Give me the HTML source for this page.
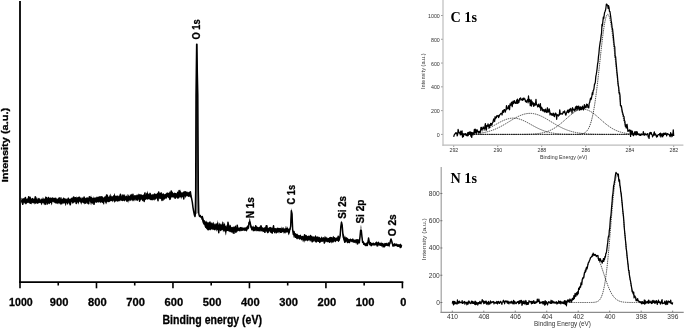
<!DOCTYPE html>
<html><head><meta charset="utf-8"><style>
html,body{margin:0;padding:0;background:#fff;}
body{width:685px;height:328px;overflow:hidden;font-family:"Liberation Sans",sans-serif;}
svg{display:block;filter:blur(0.3px);}
</style></head><body>
<svg width="685" height="328" viewBox="0 0 685 328">
<g stroke="#000" fill="none">
<line x1="20" y1="1" x2="20" y2="282.9" stroke-width="1.8"/>
<line x1="19.1" y1="282.1" x2="403.3" y2="282.1" stroke-width="1.7"/>
<line x1="20.00" y1="282" x2="20.00" y2="288.3" stroke-width="1.6"/>
<line x1="58.24" y1="282" x2="58.24" y2="285.5" stroke-width="1.6"/>
<line x1="96.48" y1="282" x2="96.48" y2="288.3" stroke-width="1.6"/>
<line x1="134.72" y1="282" x2="134.72" y2="285.5" stroke-width="1.6"/>
<line x1="172.96" y1="282" x2="172.96" y2="288.3" stroke-width="1.6"/>
<line x1="211.20" y1="282" x2="211.20" y2="285.5" stroke-width="1.6"/>
<line x1="249.44" y1="282" x2="249.44" y2="288.3" stroke-width="1.6"/>
<line x1="287.68" y1="282" x2="287.68" y2="285.5" stroke-width="1.6"/>
<line x1="325.92" y1="282" x2="325.92" y2="288.3" stroke-width="1.6"/>
<line x1="364.16" y1="282" x2="364.16" y2="285.5" stroke-width="1.6"/>
<line x1="402.40" y1="282" x2="402.40" y2="288.3" stroke-width="1.6"/>
</g>
<g font-family="Liberation Sans" font-weight="bold" stroke="#000" stroke-width="0.3" font-size="11.5" fill="#000" text-anchor="middle">
<text x="20.90" y="306" textLength="23.6" lengthAdjust="spacingAndGlyphs">1000</text>
<text x="59.14" y="306" textLength="18.6" lengthAdjust="spacingAndGlyphs">900</text>
<text x="97.38" y="306" textLength="18.6" lengthAdjust="spacingAndGlyphs">800</text>
<text x="135.62" y="306" textLength="18.6" lengthAdjust="spacingAndGlyphs">700</text>
<text x="173.86" y="306" textLength="18.6" lengthAdjust="spacingAndGlyphs">600</text>
<text x="212.10" y="306" textLength="18.6" lengthAdjust="spacingAndGlyphs">500</text>
<text x="250.34" y="306" textLength="18.6" lengthAdjust="spacingAndGlyphs">400</text>
<text x="288.58" y="306" textLength="18.6" lengthAdjust="spacingAndGlyphs">300</text>
<text x="326.82" y="306" textLength="18.6" lengthAdjust="spacingAndGlyphs">200</text>
<text x="365.06" y="306" textLength="18.6" lengthAdjust="spacingAndGlyphs">100</text>
<text x="403.30" y="306" textLength="6.1" lengthAdjust="spacingAndGlyphs">0</text>
</g>
<text font-family="Liberation Sans" font-weight="bold" stroke="#000" stroke-width="0.3" font-size="12" x="162.5" y="323.8" textLength="99.5" lengthAdjust="spacingAndGlyphs">Binding energy (eV)</text>
<text font-family="Liberation Sans" font-weight="bold" stroke="#000" stroke-width="0.3" font-size="9.6" transform="translate(8.4,182.3) rotate(-90)" textLength="74.5" lengthAdjust="spacingAndGlyphs">Intensity (a.u.)</text>
<text font-family="Liberation Sans" font-weight="bold" stroke="#000" stroke-width="0.3" font-size="10.6" transform="translate(200.1,39.6) rotate(-90)" textLength="20.3" lengthAdjust="spacingAndGlyphs">O 1s</text>
<text font-family="Liberation Sans" font-weight="bold" stroke="#000" stroke-width="0.3" font-size="10.6" transform="translate(254.2,218.2) rotate(-90)" textLength="21" lengthAdjust="spacingAndGlyphs">N 1s</text>
<text font-family="Liberation Sans" font-weight="bold" stroke="#000" stroke-width="0.3" font-size="10.6" transform="translate(295.2,204.4) rotate(-90)" textLength="19.6" lengthAdjust="spacingAndGlyphs">C 1s</text>
<text font-family="Liberation Sans" font-weight="bold" stroke="#000" stroke-width="0.3" font-size="10.6" transform="translate(345.6,218.8) rotate(-90)" textLength="22.8" lengthAdjust="spacingAndGlyphs">Si 2s</text>
<text font-family="Liberation Sans" font-weight="bold" stroke="#000" stroke-width="0.3" font-size="10.6" transform="translate(363.6,223.6) rotate(-90)" textLength="24" lengthAdjust="spacingAndGlyphs">Si 2p</text>
<text font-family="Liberation Sans" font-weight="bold" stroke="#000" stroke-width="0.3" font-size="10.6" transform="translate(396.2,236.3) rotate(-90)" textLength="22" lengthAdjust="spacingAndGlyphs">O 2s</text>
<defs><linearGradient id="o1g" x1="0" y1="0" x2="0" y2="1"><stop offset="0" stop-color="#000"/><stop offset="0.3" stop-color="#111"/><stop offset="1" stop-color="#8a8a8a"/></linearGradient></defs>
<path d="M195.25,214.8L195.7,190L196.0,95L196.3,72L196.65,44.2L196.95,44.2L197.3,72L197.8,95L198.3,190L198.75,212.5Z" fill="url(#o1g)"/>
<path d="M21.40,198.58L21.73,197.39L22.06,198.75L22.39,199.04L22.72,197.96L23.05,197.98L23.38,198.31L23.71,197.91L24.04,198.91L24.37,198.98L24.70,199.44L25.03,199.19L25.36,199.65L25.69,198.61L26.02,199.49L26.35,199.88L26.68,199.52L27.01,198.49L27.34,198.61L27.67,198.01L28.00,199.07L28.33,197.26L28.66,197.22L28.99,197.51L29.32,197.85L29.65,198.43L29.98,197.00L30.31,197.28L30.64,197.47L30.97,198.08L31.30,198.55L31.63,198.69L31.96,198.85L32.29,198.93L32.62,198.42L32.95,198.67L33.28,198.78L33.61,198.50L33.94,199.43L34.27,198.48L34.60,198.55L34.93,199.11L35.26,198.23L35.59,197.58L35.92,198.08L36.25,198.79L36.58,197.35L36.91,196.55L37.24,198.54L37.57,199.64L37.90,197.70L38.23,197.71L38.56,198.16L38.89,198.28L39.22,198.88L39.55,197.68L39.88,198.01L40.21,198.80L40.54,199.70L40.87,199.61L41.20,199.32L41.53,198.33L41.86,198.57L42.19,198.41L42.52,199.05L42.85,197.11L43.18,197.86L43.51,197.79L43.84,199.17L44.17,198.88L44.50,197.87L44.83,198.68L45.16,198.65L45.49,196.42L45.82,195.89L46.15,196.86L46.48,197.04L46.81,196.86L47.14,198.10L47.47,197.35L47.80,198.37L48.13,198.96L48.46,198.74L48.79,197.22L49.12,197.39L49.45,198.25L49.78,197.74L50.11,197.38L50.44,198.15L50.77,199.03L51.10,198.14L51.43,197.56L51.76,198.40L52.09,199.02L52.42,198.29L52.75,198.14L53.08,197.65L53.41,197.38L53.74,198.35L54.07,197.66L54.40,197.95L54.73,198.85L55.06,198.12L55.39,197.59L55.72,197.46L56.05,197.53L56.38,198.08L56.71,199.43L57.04,198.88L57.37,199.28L57.70,197.91L58.03,198.97L58.36,198.60L58.69,198.66L59.02,199.09L59.35,199.17L59.68,199.67L60.01,198.95L60.34,198.45L60.67,196.92L61.00,197.14L61.33,197.03L61.66,198.13L61.99,199.47L62.32,199.55L62.65,199.17L62.98,198.66L63.31,199.16L63.64,199.33L63.97,198.00L64.30,198.31L64.63,198.59L64.96,198.15L65.29,198.38L65.62,198.49L65.95,198.76L66.28,199.56L66.61,197.69L66.94,199.24L67.27,199.78L67.60,199.03L67.93,198.03L68.26,197.49L68.59,198.44L68.92,198.88L69.25,198.93L69.58,198.91L69.91,198.31L70.24,198.59L70.57,198.51L70.90,198.69L71.23,197.91L71.56,197.50L71.89,197.99L72.22,198.40L72.55,198.40L72.88,198.18L73.21,197.53L73.54,197.07L73.87,197.15L74.20,197.44L74.53,196.19L74.86,197.51L75.19,197.30L75.52,197.62L75.85,197.22L76.18,197.61L76.51,197.44L76.84,196.10L77.17,197.49L77.50,197.14L77.83,197.10L78.16,197.57L78.49,197.43L78.82,196.60L79.15,197.16L79.48,197.46L79.81,197.13L80.14,196.71L80.47,197.88L80.80,197.97L81.13,198.16L81.46,198.46L81.79,197.05L82.12,197.35L82.45,197.78L82.78,197.62L83.11,198.10L83.44,198.22L83.77,196.63L84.10,197.84L84.43,198.51L84.76,197.27L85.09,197.79L85.42,198.22L85.75,197.91L86.08,197.01L86.41,197.39L86.74,198.28L87.07,196.84L87.40,197.63L87.73,197.86L88.06,196.40L88.39,197.97L88.72,197.65L89.05,197.67L89.38,197.49L89.71,196.42L90.04,196.34L90.37,196.69L90.70,196.72L91.03,195.06L91.36,196.90L91.69,196.94L92.02,197.61L92.35,198.31L92.68,198.16L93.01,197.92L93.34,197.99L93.67,196.42L94.00,196.61L94.33,198.19L94.66,197.51L94.99,197.15L95.32,197.59L95.65,197.52L95.98,197.56L96.31,197.25L96.64,196.90L96.97,195.92L97.30,197.00L97.63,197.64L97.96,196.91L98.29,198.22L98.62,197.04L98.95,196.92L99.28,197.52L99.61,197.93L99.94,197.52L100.27,197.53L100.60,197.59L100.93,197.98L101.26,197.74L101.59,196.55L101.92,196.28L102.25,195.73L102.58,197.10L102.91,197.54L103.24,197.45L103.57,197.89L103.90,197.14L104.23,196.63L104.56,197.63L104.89,195.96L105.22,196.74L105.55,197.80L105.88,197.56L106.21,196.95L106.54,197.56L106.87,197.80L107.20,196.89L107.53,197.72L107.86,197.39L108.19,196.60L108.52,197.36L108.85,195.86L109.18,195.51L109.51,194.57L109.84,197.07L110.17,196.20L110.50,193.65L110.83,193.71L111.16,195.41L111.49,195.96L111.82,196.83L112.15,196.05L112.48,196.69L112.81,196.35L113.14,196.02L113.47,195.69L113.80,195.39L114.13,193.99L114.46,193.05L114.79,194.11L115.12,196.17L115.45,195.09L115.78,196.04L116.11,195.62L116.44,196.35L116.77,196.81L117.10,195.25L117.43,195.14L117.76,195.92L118.09,196.47L118.42,196.60L118.75,196.26L119.08,196.32L119.41,196.14L119.74,196.22L120.07,197.17L120.40,196.09L120.73,194.93L121.06,196.44L121.39,196.78L121.72,196.52L122.05,195.09L122.38,193.81L122.71,194.41L123.04,195.87L123.37,194.60L123.70,194.33L124.03,194.81L124.36,195.44L124.69,193.90L125.02,194.36L125.35,196.40L125.68,196.48L126.01,195.91L126.34,195.92L126.67,195.38L127.00,194.46L127.33,193.77L127.66,195.67L127.99,196.72L128.32,195.01L128.65,194.94L128.98,193.75L129.31,195.96L129.64,195.90L129.97,195.47L130.30,195.50L130.63,195.73L130.96,195.18L131.29,194.86L131.62,193.84L131.95,193.77L132.28,195.44L132.61,194.61L132.94,195.66L133.27,196.22L133.60,195.77L133.93,195.09L134.26,194.91L134.59,195.21L134.92,195.61L135.25,195.25L135.58,195.34L135.91,194.99L136.24,195.05L136.57,195.59L136.90,194.07L137.23,194.02L137.56,195.34L137.89,194.98L138.22,194.62L138.55,193.97L138.88,193.22L139.21,194.05L139.54,194.54L139.87,193.98L140.20,195.12L140.53,195.08L140.86,193.79L141.19,195.02L141.52,194.02L141.85,195.31L142.18,195.04L142.51,195.55L142.84,195.89L143.17,194.42L143.50,194.49L143.83,194.32L144.16,195.49L144.49,194.78L144.82,193.55L145.15,195.24L145.48,194.65L145.81,191.55L146.14,193.21L146.47,193.59L146.80,192.65L147.13,191.94L147.46,190.45L147.79,192.65L148.12,193.36L148.45,194.35L148.78,193.78L149.11,193.32L149.44,193.52L149.77,194.48L150.10,194.64L150.43,193.68L150.76,193.38L151.09,194.81L151.42,194.84L151.75,194.26L152.08,193.83L152.41,194.36L152.74,194.59L153.07,194.48L153.40,194.28L153.73,193.93L154.06,193.36L154.39,193.29L154.72,193.33L155.05,194.36L155.38,193.26L155.71,194.13L156.04,194.26L156.37,194.09L156.70,193.99L157.03,192.67L157.36,193.24L157.69,192.62L158.02,193.59L158.35,193.76L158.68,192.28L159.01,193.58L159.34,193.77L159.67,192.49L160.00,192.74L160.33,192.35L160.66,194.31L160.99,192.29L161.32,192.36L161.65,191.80L161.98,193.84L162.31,193.71L162.64,193.75L162.97,193.78L163.30,194.03L163.63,194.32L163.96,194.36L164.29,193.89L164.62,194.40L164.95,194.07L165.28,193.60L165.61,194.02L165.94,193.79L166.27,193.04L166.60,193.33L166.93,192.07L167.26,193.19L167.59,191.86L167.92,192.74L168.25,192.60L168.58,193.06L168.91,192.89L169.24,192.12L169.57,192.45L169.90,190.85L170.23,192.05L170.56,192.12L170.89,193.08L171.22,192.90L171.55,192.95L171.88,191.73L172.21,192.16L172.54,192.26L172.87,190.96L173.20,193.16L173.53,193.28L173.86,193.07L174.19,193.04L174.52,193.75L174.85,193.49L175.18,193.61L175.51,193.58L175.84,193.99L176.17,193.97L176.50,193.97L176.83,193.43L177.16,192.56L177.49,192.56L177.82,191.84L178.15,192.23L178.48,191.14L178.81,192.09L179.14,191.80L179.47,192.16L179.80,192.32L180.13,191.27L180.46,189.36L180.79,191.31L181.12,192.02L181.45,192.90L181.78,191.87L182.11,192.59L182.44,192.26L182.77,192.47L183.10,191.25L183.43,191.54L183.76,192.01L184.09,191.09L184.42,191.79L184.75,190.75L185.08,191.31L185.41,191.87L185.74,191.01L186.07,191.55L186.40,192.08L186.73,192.75L187.06,192.37L187.39,191.17L187.72,191.88L188.05,192.73L188.38,191.64L188.71,193.27L189.04,193.03L189.37,193.21L189.70,193.49L190.03,193.17L190.36,193.40L190.69,195.00L191.02,196.17L191.35,197.16L191.35,198.24L191.02,197.30L190.69,197.14L190.36,197.22L190.03,197.70L189.70,196.19L189.37,196.02L189.04,196.69L188.71,197.12L188.38,197.07L188.05,196.46L187.72,196.49L187.39,195.66L187.06,195.91L186.73,195.42L186.40,196.80L186.07,196.30L185.74,198.48L185.41,197.61L185.08,196.82L184.75,195.74L184.42,196.60L184.09,196.03L183.76,195.93L183.43,196.99L183.10,196.55L182.77,197.20L182.44,196.84L182.11,198.00L181.78,197.19L181.45,198.23L181.12,199.41L180.79,198.05L180.46,197.19L180.13,196.92L179.80,196.67L179.47,197.67L179.14,197.76L178.81,198.09L178.48,197.25L178.15,197.56L177.82,198.78L177.49,198.94L177.16,198.29L176.83,198.29L176.50,197.34L176.17,197.81L175.84,198.33L175.51,198.39L175.18,197.95L174.85,198.70L174.52,197.32L174.19,198.26L173.86,198.32L173.53,197.13L173.20,197.22L172.87,198.25L172.54,196.95L172.21,196.93L171.88,198.40L171.55,196.65L171.22,197.53L170.89,199.31L170.56,199.30L170.23,199.41L169.90,196.50L169.57,197.19L169.24,197.63L168.91,197.35L168.58,198.73L168.25,197.61L167.92,197.44L167.59,196.96L167.26,197.22L166.93,198.04L166.60,198.22L166.27,199.20L165.94,198.85L165.61,197.65L165.28,199.06L164.95,198.30L164.62,198.04L164.29,198.65L163.96,200.79L163.63,201.19L163.30,199.08L162.97,197.83L162.64,198.16L162.31,198.50L161.98,199.15L161.65,199.45L161.32,198.84L160.99,197.91L160.66,198.50L160.33,199.00L160.00,199.53L159.67,198.27L159.34,197.69L159.01,197.84L158.68,198.96L158.35,197.87L158.02,197.44L157.69,198.25L157.36,197.96L157.03,198.96L156.70,198.13L156.37,198.62L156.04,198.52L155.71,199.71L155.38,199.45L155.05,199.65L154.72,199.17L154.39,200.36L154.06,200.88L153.73,199.64L153.40,199.32L153.07,198.50L152.74,199.12L152.41,199.92L152.08,198.84L151.75,198.17L151.42,199.76L151.09,198.37L150.76,199.79L150.43,198.73L150.10,198.96L149.77,198.68L149.44,199.05L149.11,198.49L148.78,199.18L148.45,199.57L148.12,198.95L147.79,199.27L147.46,200.34L147.13,199.60L146.80,199.47L146.47,199.12L146.14,199.43L145.81,198.97L145.48,200.21L145.15,199.90L144.82,201.38L144.49,200.73L144.16,201.05L143.83,200.60L143.50,201.01L143.17,200.60L142.84,201.50L142.51,200.71L142.18,200.91L141.85,199.91L141.52,199.37L141.19,200.04L140.86,200.68L140.53,199.55L140.20,200.10L139.87,200.64L139.54,200.66L139.21,199.76L138.88,199.16L138.55,199.79L138.22,200.01L137.89,200.36L137.56,201.15L137.23,200.86L136.90,199.91L136.57,199.22L136.24,199.76L135.91,200.99L135.58,200.84L135.25,199.20L134.92,199.51L134.59,200.05L134.26,200.88L133.93,201.83L133.60,200.05L133.27,201.07L132.94,199.56L132.61,200.09L132.28,201.58L131.95,201.13L131.62,199.23L131.29,200.10L130.96,199.95L130.63,201.13L130.30,200.45L129.97,201.56L129.64,201.37L129.31,200.03L128.98,201.12L128.65,203.46L128.32,200.56L127.99,200.77L127.66,202.70L127.33,201.50L127.00,201.61L126.67,202.11L126.34,201.57L126.01,201.39L125.68,199.97L125.35,200.55L125.02,200.81L124.69,201.02L124.36,201.67L124.03,201.29L123.70,200.19L123.37,201.35L123.04,200.38L122.71,200.22L122.38,200.78L122.05,201.24L121.72,200.43L121.39,200.55L121.06,200.66L120.73,200.61L120.40,200.37L120.07,201.62L119.74,201.00L119.41,200.64L119.08,201.66L118.75,201.00L118.42,201.23L118.09,201.82L117.76,202.15L117.43,200.83L117.10,202.05L116.77,200.93L116.44,200.77L116.11,201.63L115.78,200.86L115.45,202.26L115.12,200.84L114.79,201.92L114.46,203.22L114.13,201.94L113.80,201.55L113.47,200.82L113.14,200.46L112.81,202.61L112.48,201.26L112.15,201.54L111.82,201.21L111.49,200.28L111.16,201.37L110.83,201.31L110.50,201.16L110.17,201.21L109.84,201.34L109.51,201.20L109.18,201.28L108.85,202.13L108.52,202.50L108.19,201.76L107.86,202.54L107.53,201.81L107.20,201.57L106.87,202.42L106.54,203.40L106.21,204.29L105.88,204.20L105.55,203.10L105.22,202.66L104.89,201.13L104.56,201.26L104.23,204.08L103.90,204.92L103.57,204.36L103.24,203.91L102.91,203.08L102.58,203.33L102.25,202.81L101.92,202.59L101.59,203.03L101.26,201.67L100.93,202.22L100.60,202.74L100.27,203.35L99.94,202.91L99.61,201.64L99.28,201.88L98.95,202.84L98.62,202.56L98.29,202.48L97.96,201.99L97.63,202.13L97.30,201.66L96.97,202.54L96.64,201.57L96.31,201.54L95.98,202.77L95.65,202.69L95.32,202.37L94.99,201.93L94.66,201.71L94.33,201.85L94.00,202.19L93.67,203.70L93.34,203.14L93.01,203.11L92.68,203.40L92.35,204.16L92.02,203.89L91.69,201.74L91.36,204.30L91.03,205.46L90.70,204.19L90.37,202.18L90.04,201.44L89.71,201.36L89.38,201.62L89.05,201.73L88.72,202.73L88.39,202.46L88.06,201.80L87.73,203.16L87.40,204.27L87.07,204.09L86.74,201.89L86.41,202.55L86.08,202.10L85.75,202.80L85.42,201.99L85.09,202.58L84.76,204.69L84.43,203.98L84.10,203.20L83.77,203.01L83.44,203.14L83.11,203.76L82.78,202.26L82.45,202.88L82.12,202.57L81.79,202.94L81.46,204.18L81.13,204.86L80.80,203.51L80.47,202.80L80.14,202.11L79.81,202.27L79.48,201.30L79.15,202.33L78.82,203.54L78.49,204.67L78.16,203.59L77.83,201.89L77.50,202.64L77.17,202.03L76.84,202.10L76.51,202.52L76.18,203.10L75.85,202.13L75.52,202.26L75.19,201.87L74.86,202.45L74.53,201.95L74.20,202.78L73.87,203.36L73.54,202.23L73.21,202.86L72.88,204.36L72.55,203.19L72.22,202.40L71.89,202.01L71.56,202.25L71.23,202.07L70.90,202.35L70.57,203.68L70.24,203.60L69.91,203.38L69.58,202.62L69.25,202.25L68.92,202.42L68.59,203.25L68.26,203.76L67.93,204.26L67.60,204.48L67.27,204.47L66.94,204.67L66.61,202.92L66.28,202.91L65.95,205.71L65.62,205.35L65.29,205.98L64.96,203.08L64.63,202.91L64.30,203.16L63.97,203.20L63.64,203.45L63.31,202.95L62.98,204.77L62.65,203.68L62.32,203.12L61.99,204.19L61.66,203.01L61.33,204.13L61.00,205.43L60.67,204.00L60.34,203.24L60.01,204.55L59.68,203.52L59.35,203.73L59.02,202.96L58.69,203.76L58.36,203.05L58.03,204.74L57.70,203.83L57.37,204.04L57.04,202.95L56.71,204.11L56.38,203.44L56.05,203.19L55.72,203.19L55.39,203.81L55.06,203.17L54.73,202.21L54.40,202.95L54.07,203.28L53.74,202.42L53.41,201.85L53.08,202.29L52.75,201.79L52.42,202.06L52.09,204.28L51.76,205.48L51.43,204.84L51.10,203.54L50.77,202.82L50.44,202.94L50.11,203.26L49.78,203.18L49.45,202.88L49.12,202.99L48.79,203.01L48.46,203.71L48.13,203.33L47.80,203.03L47.47,202.81L47.14,201.72L46.81,201.98L46.48,203.11L46.15,202.94L45.82,202.37L45.49,202.98L45.16,202.91L44.83,203.74L44.50,204.17L44.17,204.21L43.84,204.69L43.51,202.72L43.18,203.16L42.85,202.64L42.52,202.93L42.19,203.93L41.86,205.09L41.53,205.20L41.20,204.35L40.87,203.13L40.54,203.46L40.21,202.82L39.88,202.98L39.55,202.59L39.22,203.19L38.89,203.02L38.56,202.99L38.23,202.75L37.90,203.74L37.57,202.89L37.24,203.72L36.91,203.81L36.58,202.55L36.25,202.88L35.92,203.07L35.59,203.49L35.26,203.78L34.93,204.73L34.60,203.89L34.27,202.88L33.94,204.08L33.61,202.92L33.28,202.85L32.95,203.37L32.62,203.31L32.29,203.12L31.96,202.17L31.63,204.78L31.30,203.96L30.97,202.52L30.64,203.60L30.31,203.38L29.98,202.81L29.65,203.41L29.32,203.84L28.99,203.46L28.66,202.58L28.33,202.21L28.00,203.32L27.67,202.55L27.34,202.86L27.01,203.46L26.68,203.60L26.35,203.97L26.02,204.41L25.69,203.72L25.36,204.70L25.03,203.33L24.70,203.63L24.37,202.58L24.04,203.57L23.71,203.72L23.38,201.98L23.05,202.59L22.72,202.36L22.39,202.80L22.06,202.47L21.73,202.88L21.40,203.62Z M200.59,215.65L200.92,216.05L201.25,216.40L201.58,216.24L201.91,216.81L202.24,218.28L202.57,217.97L202.90,219.21L203.23,219.64L203.56,219.90L203.89,219.40L204.22,220.14L204.55,220.11L204.88,220.44L205.21,221.55L205.54,221.78L205.87,220.77L206.20,220.39L206.53,222.17L206.86,221.06L207.19,221.93L207.52,221.69L207.85,223.05L208.18,222.72L208.51,222.29L208.84,222.28L209.17,222.17L209.50,223.35L209.83,223.08L210.16,221.44L210.49,221.09L210.82,222.90L211.15,222.82L211.48,221.88L211.81,222.91L212.14,223.98L212.47,222.36L212.80,222.71L213.13,223.83L213.46,221.76L213.79,222.12L214.12,222.94L214.45,223.92L214.78,224.22L215.11,224.63L215.44,224.60L215.77,224.21L216.10,223.58L216.43,224.04L216.76,224.74L217.09,222.75L217.42,222.08L217.75,219.86L218.08,224.43L218.41,224.77L218.74,221.56L219.07,224.42L219.40,223.35L219.73,222.46L220.06,223.35L220.39,223.77L220.72,224.27L221.05,224.89L221.38,223.84L221.71,224.81L222.04,221.99L222.37,221.20L222.70,221.67L223.03,224.60L223.36,223.99L223.69,221.77L224.02,222.37L224.35,223.34L224.68,223.86L225.01,224.07L225.34,225.13L225.67,226.03L226.00,225.96L226.33,226.75L226.66,224.87L226.99,225.02L227.32,224.79L227.65,226.23L227.98,225.79L228.31,224.62L228.64,224.15L228.97,225.17L229.30,225.64L229.63,225.65L229.96,224.35L230.29,225.09L230.62,224.98L230.95,225.96L231.28,226.94L231.61,227.05L231.94,227.25L232.27,227.05L232.60,227.20L232.93,226.49L233.26,227.19L233.59,225.68L233.92,227.20L234.25,227.11L234.58,225.99L234.91,226.95L235.24,224.96L235.57,225.79L235.90,225.68L236.23,227.34L236.56,227.48L236.89,227.91L237.22,226.61L237.55,227.46L237.88,227.84L238.21,227.30L238.54,227.78L238.87,228.11L239.20,227.63L239.53,227.50L239.86,226.96L240.19,227.04L240.52,227.10L240.85,226.82L241.18,227.61L241.51,226.87L241.84,227.18L242.17,226.82L242.50,227.52L242.83,227.74L243.16,227.56L243.49,227.94L243.82,227.35L244.15,227.35L244.48,227.98L244.81,227.28L245.14,227.19L245.47,227.79L245.80,227.96L246.13,227.44L246.46,226.93L246.79,227.16L247.12,227.37L247.45,226.79L247.78,226.29L248.11,225.42L248.44,224.54L248.77,222.09L249.10,220.89L249.43,218.58L249.76,218.18L250.09,218.67L250.42,221.86L250.75,223.74L251.08,224.82L251.41,225.99L251.74,226.41L252.07,226.54L252.40,226.94L252.73,226.37L253.06,225.42L253.39,225.80L253.72,227.04L254.05,227.10L254.38,227.38L254.71,226.27L255.04,227.39L255.37,227.35L255.70,226.92L256.03,227.10L256.36,226.81L256.69,226.97L257.02,226.58L257.35,226.55L257.68,226.89L258.01,227.08L258.34,227.29L258.67,227.99L259.00,227.48L259.33,227.42L259.66,227.79L259.99,227.63L260.32,227.02L260.65,226.09L260.98,226.02L261.31,225.89L261.64,227.71L261.97,226.53L262.30,227.35L262.63,227.72L262.96,227.82L263.29,227.72L263.62,228.14L263.95,227.73L264.28,227.84L264.61,228.17L264.94,227.88L265.27,227.39L265.60,227.63L265.93,227.59L266.26,228.04L266.59,227.21L266.92,227.44L267.25,227.99L267.58,227.38L267.91,228.21L268.24,228.30L268.57,228.56L268.90,227.36L269.23,226.94L269.56,227.73L269.89,228.21L270.22,227.15L270.55,227.10L270.88,227.85L271.21,226.84L271.54,227.56L271.87,228.25L272.20,227.29L272.53,227.95L272.86,228.05L273.19,227.91L273.52,228.40L273.85,228.24L274.18,228.08L274.51,228.38L274.84,228.27L275.17,228.32L275.50,227.96L275.83,228.25L276.16,227.71L276.49,228.29L276.82,228.65L277.15,228.10L277.48,228.10L277.81,226.85L278.14,228.19L278.47,228.03L278.80,228.65L279.13,228.74L279.46,227.94L279.79,228.25L280.12,227.38L280.45,228.33L280.78,228.13L281.11,228.53L281.44,227.94L281.77,226.52L282.10,226.93L282.43,227.71L282.76,228.11L283.09,228.63L283.42,227.59L283.75,226.91L284.08,227.99L284.41,228.72L284.74,228.49L285.07,228.14L285.40,228.29L285.73,226.29L286.06,225.72L286.39,227.13L286.72,228.16L287.05,227.95L287.38,227.33L287.71,226.16L288.04,229.12L288.37,229.17L288.70,228.83L289.03,229.15L289.36,228.33L289.69,228.70L290.02,228.60L290.35,226.56L290.68,222.84L291.01,215.55L291.34,209.96L291.67,207.90L292.00,211.20L292.33,216.25L292.66,224.53L292.99,229.08L293.32,230.91L293.65,231.30L293.98,232.42L294.31,231.82L294.64,233.09L294.97,232.87L295.30,232.90L295.63,232.93L295.96,233.76L296.29,233.96L296.62,233.78L296.95,233.41L297.28,234.47L297.61,233.29L297.94,234.51L298.27,234.88L298.60,234.85L298.93,235.53L299.26,234.90L299.59,235.32L299.92,235.80L300.25,234.08L300.58,235.27L300.91,234.43L301.24,236.23L301.57,236.06L301.90,235.76L302.23,235.77L302.56,236.04L302.89,235.80L303.22,236.43L303.55,236.18L303.88,235.96L304.21,236.10L304.54,235.82L304.87,235.74L305.20,235.15L305.53,234.53L305.86,235.34L306.19,235.16L306.52,234.64L306.85,235.18L307.18,236.42L307.51,235.67L307.84,235.96L308.17,235.16L308.50,235.87L308.83,236.23L309.16,235.94L309.49,235.64L309.82,236.21L310.15,236.43L310.48,236.68L310.81,237.04L311.14,237.02L311.47,237.22L311.80,236.99L312.13,236.06L312.46,236.91L312.79,236.89L313.12,236.25L313.45,236.68L313.78,236.11L314.11,237.27L314.44,236.64L314.77,235.95L315.10,235.72L315.43,235.30L315.76,235.11L316.09,236.68L316.42,236.84L316.75,236.24L317.08,236.35L317.41,236.81L317.74,236.59L318.07,235.76L318.40,237.42L318.73,237.02L319.06,237.74L319.39,237.16L319.72,236.97L320.05,238.08L320.38,238.24L320.71,237.19L321.04,237.88L321.37,236.93L321.70,235.98L322.03,237.46L322.36,237.81L322.69,237.70L323.02,237.09L323.35,237.13L323.68,237.26L324.01,237.42L324.34,237.74L324.67,235.51L325.00,237.01L325.33,237.46L325.66,235.96L325.99,236.47L326.32,236.92L326.65,237.26L326.98,238.12L327.31,237.30L327.64,238.38L327.97,237.77L328.30,237.88L328.63,237.74L328.96,238.17L329.29,237.34L329.62,237.13L329.95,237.18L330.28,237.14L330.61,237.08L330.94,237.72L331.27,236.89L331.60,236.96L331.93,237.24L332.26,237.63L332.59,237.17L332.92,236.36L333.25,235.99L333.58,235.85L333.91,237.28L334.24,237.79L334.57,237.81L334.90,237.80L335.23,238.02L335.56,237.77L335.89,237.59L336.22,237.43L336.55,237.61L336.88,237.66L337.21,237.58L337.54,237.42L337.87,236.89L338.20,237.68L338.53,237.24L338.86,237.44L339.19,237.26L339.52,236.49L339.85,234.83L340.18,232.91L340.51,229.34L340.84,226.55L341.17,223.59L341.50,220.62L341.83,222.30L342.16,224.39L342.49,227.78L342.82,230.92L343.15,233.75L343.48,234.48L343.81,234.56L344.14,235.21L344.47,237.59L344.80,236.21L345.13,235.53L345.46,237.12L345.79,237.38L346.12,237.57L346.45,237.18L346.78,237.11L347.11,237.88L347.44,237.44L347.77,238.19L348.10,238.59L348.43,238.98L348.76,239.52L349.09,239.14L349.42,239.10L349.75,239.51L350.08,238.38L350.41,238.16L350.74,239.04L351.07,239.20L351.40,239.68L351.73,239.27L352.06,239.29L352.39,238.99L352.72,238.46L353.05,237.78L353.38,239.50L353.71,240.08L354.04,240.00L354.37,239.83L354.70,239.63L355.03,238.67L355.36,239.23L355.69,240.33L356.02,239.22L356.35,239.14L356.68,239.42L357.01,240.48L357.34,239.08L357.67,239.23L358.00,240.51L358.33,240.97L358.66,240.75L358.99,240.91L359.32,239.65L359.65,238.89L359.98,236.93L360.31,231.14L360.64,227.19L360.97,224.41L361.30,227.17L361.63,231.44L361.96,236.10L362.29,238.38L362.62,240.30L362.95,241.31L363.28,242.28L363.61,242.14L363.94,242.26L364.27,243.06L364.60,242.36L364.93,243.03L365.26,243.38L365.59,243.27L365.92,242.82L366.25,242.34L366.58,242.49L366.91,242.99L367.24,242.11L367.57,242.52L367.90,240.29L368.23,238.52L368.56,238.29L368.89,238.14L369.22,240.53L369.55,242.06L369.88,242.88L370.21,242.99L370.54,242.56L370.87,243.00L371.20,242.99L371.53,243.06L371.86,242.86L372.19,242.93L372.52,242.67L372.85,243.39L373.18,243.09L373.51,243.35L373.84,242.36L374.17,243.35L374.50,243.31L374.83,243.34L375.16,241.86L375.49,243.09L375.82,242.49L376.15,241.83L376.48,242.56L376.81,242.63L377.14,243.17L377.47,242.66L377.80,243.04L378.13,243.48L378.46,242.91L378.79,242.74L379.12,243.25L379.45,243.53L379.78,243.54L380.11,243.00L380.44,243.45L380.77,242.19L381.10,241.58L381.43,242.49L381.76,243.52L382.09,243.44L382.42,243.54L382.75,243.55L383.08,243.21L383.41,243.59L383.74,243.54L384.07,244.10L384.40,243.78L384.73,243.12L385.06,243.32L385.39,242.76L385.72,243.20L386.05,243.23L386.38,243.35L386.71,242.61L387.04,242.76L387.37,243.47L387.70,243.82L388.03,243.54L388.36,244.01L388.69,244.06L389.02,244.18L389.35,243.85L389.68,244.00L390.01,243.10L390.34,242.03L390.67,240.20L391.00,238.87L391.33,239.22L391.66,240.05L391.99,242.32L392.32,243.12L392.65,244.15L392.98,243.61L393.31,244.45L393.64,244.05L393.97,244.29L394.30,244.31L394.63,243.18L394.96,242.86L395.29,243.18L395.62,244.19L395.95,244.12L396.28,243.86L396.61,243.21L396.94,243.41L397.27,243.76L397.60,244.42L397.93,244.49L398.26,243.99L398.59,244.13L398.92,244.29L399.25,244.66L399.58,243.88L399.91,244.20L400.24,243.82L400.57,243.76L400.90,243.46L401.23,244.42L401.56,244.61L401.56,247.05L401.23,247.45L400.90,246.61L400.57,247.23L400.24,246.08L399.91,246.12L399.58,246.28L399.25,246.46L398.92,246.35L398.59,246.11L398.26,246.19L397.93,246.20L397.60,245.91L397.27,245.89L396.94,246.77L396.61,246.29L396.28,245.96L395.95,245.76L395.62,245.77L395.29,245.89L394.96,246.07L394.63,246.17L394.30,246.66L393.97,246.45L393.64,245.82L393.31,245.88L392.98,246.58L392.65,247.22L392.32,246.01L391.99,244.67L391.66,243.14L391.33,240.75L391.00,240.76L390.67,241.75L390.34,243.79L390.01,245.35L389.68,246.04L389.35,247.13L389.02,247.14L388.69,246.11L388.36,246.24L388.03,246.16L387.70,245.81L387.37,245.27L387.04,245.28L386.71,245.22L386.38,245.84L386.05,245.87L385.72,246.11L385.39,246.26L385.06,246.35L384.73,246.64L384.40,246.10L384.07,245.98L383.74,246.01L383.41,245.59L383.08,245.87L382.75,245.80L382.42,245.51L382.09,245.67L381.76,246.49L381.43,246.89L381.10,245.94L380.77,245.53L380.44,245.51L380.11,245.15L379.78,245.55L379.45,245.62L379.12,246.10L378.79,246.53L378.46,245.80L378.13,245.07L377.80,244.96L377.47,244.99L377.14,244.79L376.81,244.71L376.48,245.22L376.15,245.18L375.82,244.96L375.49,244.94L375.16,245.44L374.83,245.25L374.50,245.00L374.17,245.31L373.84,245.57L373.51,245.83L373.18,245.34L372.85,245.41L372.52,245.09L372.19,244.98L371.86,245.06L371.53,244.90L371.20,245.08L370.87,245.43L370.54,245.59L370.21,245.25L369.88,245.21L369.55,245.26L369.22,243.64L368.89,242.23L368.56,240.74L368.23,241.13L367.90,243.67L367.57,245.26L367.24,245.66L366.91,245.04L366.58,245.49L366.25,245.70L365.92,245.17L365.59,245.97L365.26,246.27L364.93,245.45L364.60,245.79L364.27,245.61L363.94,244.48L363.61,244.71L363.28,245.01L362.95,243.73L362.62,243.00L362.29,241.35L361.96,238.32L361.63,234.03L361.30,229.44L360.97,227.65L360.64,230.94L360.31,235.32L359.98,239.38L359.65,241.64L359.32,243.48L358.99,243.42L358.66,242.91L358.33,243.96L358.00,244.66L357.67,244.50L357.34,243.92L357.01,242.56L356.68,243.29L356.35,242.88L356.02,242.94L355.69,242.52L355.36,243.90L355.03,242.76L354.70,242.80L354.37,242.21L354.04,242.35L353.71,242.00L353.38,242.10L353.05,242.18L352.72,242.84L352.39,241.73L352.06,242.21L351.73,242.35L351.40,242.04L351.07,241.26L350.74,241.64L350.41,241.50L350.08,241.61L349.75,242.32L349.42,242.85L349.09,241.46L348.76,242.23L348.43,241.74L348.10,242.32L347.77,241.23L347.44,241.34L347.11,241.22L346.78,241.99L346.45,241.53L346.12,240.71L345.79,241.26L345.46,240.46L345.13,240.65L344.80,240.64L344.47,240.48L344.14,240.71L343.81,240.65L343.48,239.25L343.15,239.46L342.82,237.23L342.49,233.45L342.16,227.78L341.83,225.82L341.50,225.42L341.17,226.90L340.84,229.51L340.51,233.17L340.18,236.04L339.85,238.32L339.52,240.30L339.19,240.95L338.86,241.76L338.53,242.09L338.20,242.08L337.87,240.95L337.54,241.46L337.21,240.45L336.88,240.84L336.55,240.79L336.22,241.02L335.89,241.61L335.56,241.72L335.23,242.77L334.90,241.25L334.57,241.61L334.24,241.76L333.91,241.50L333.58,241.27L333.25,241.34L332.92,240.87L332.59,241.02L332.26,241.06L331.93,241.83L331.60,242.75L331.27,243.46L330.94,243.17L330.61,241.83L330.28,242.07L329.95,242.50L329.62,243.19L329.29,241.64L328.96,241.70L328.63,242.14L328.30,241.19L327.97,242.20L327.64,241.71L327.31,241.53L326.98,242.37L326.65,241.90L326.32,241.37L325.99,240.88L325.66,241.58L325.33,242.61L325.00,242.27L324.67,242.17L324.34,241.09L324.01,240.75L323.68,241.30L323.35,241.35L323.02,241.67L322.69,241.20L322.36,240.91L322.03,242.05L321.70,241.62L321.37,241.24L321.04,241.83L320.71,242.28L320.38,241.74L320.05,241.22L319.72,241.51L319.39,241.83L319.06,241.45L318.73,242.17L318.40,241.12L318.07,241.72L317.74,240.76L317.41,241.49L317.08,241.37L316.75,242.88L316.42,241.19L316.09,241.50L315.76,242.11L315.43,242.78L315.10,242.10L314.77,241.98L314.44,240.90L314.11,240.64L313.78,240.92L313.45,242.16L313.12,241.56L312.79,240.81L312.46,240.29L312.13,241.03L311.80,240.45L311.47,242.04L311.14,242.64L310.81,240.96L310.48,240.52L310.15,241.67L309.82,241.42L309.49,240.05L309.16,240.24L308.83,240.74L308.50,240.67L308.17,240.06L307.84,240.87L307.51,241.54L307.18,241.37L306.85,240.63L306.52,240.51L306.19,240.38L305.86,240.80L305.53,241.52L305.20,240.31L304.87,241.56L304.54,242.95L304.21,240.43L303.88,240.51L303.55,240.95L303.22,242.13L302.89,241.96L302.56,240.72L302.23,239.41L301.90,240.20L301.57,240.45L301.24,240.35L300.91,238.93L300.58,239.50L300.25,239.14L299.92,239.68L299.59,239.52L299.26,239.73L298.93,239.22L298.60,238.41L298.27,238.65L297.94,239.60L297.61,239.20L297.28,239.03L296.95,238.06L296.62,237.96L296.29,239.67L295.96,237.06L295.63,236.81L295.30,238.22L294.97,236.30L294.64,236.17L294.31,236.77L293.98,237.78L293.65,237.53L293.32,235.56L292.99,233.03L292.66,229.39L292.33,221.23L292.00,214.58L291.67,211.61L291.34,213.79L291.01,219.98L290.68,227.12L290.35,230.30L290.02,232.36L289.69,233.22L289.36,233.64L289.03,235.01L288.70,235.27L288.37,234.58L288.04,233.58L287.71,232.53L287.38,232.31L287.05,232.09L286.72,232.61L286.39,232.25L286.06,232.84L285.73,233.98L285.40,232.45L285.07,231.82L284.74,231.80L284.41,233.46L284.08,233.46L283.75,233.64L283.42,232.46L283.09,231.89L282.76,231.98L282.43,232.35L282.10,232.60L281.77,232.26L281.44,233.03L281.11,232.52L280.78,231.94L280.45,232.41L280.12,233.24L279.79,232.34L279.46,231.89L279.13,233.65L278.80,233.16L278.47,232.51L278.14,231.81L277.81,231.88L277.48,232.31L277.15,232.11L276.82,231.78L276.49,231.90L276.16,231.50L275.83,232.83L275.50,232.24L275.17,232.33L274.84,232.88L274.51,232.96L274.18,233.92L273.85,231.65L273.52,231.44L273.19,232.01L272.86,232.04L272.53,232.75L272.20,231.52L271.87,231.80L271.54,231.83L271.21,231.25L270.88,231.43L270.55,231.83L270.22,231.12L269.89,232.44L269.56,231.74L269.23,231.12L268.90,231.73L268.57,233.36L268.24,232.79L267.91,233.81L267.58,231.95L267.25,231.28L266.92,231.66L266.59,231.77L266.26,231.81L265.93,231.10L265.60,230.89L265.27,231.55L264.94,231.19L264.61,233.07L264.28,232.58L263.95,231.81L263.62,231.90L263.29,231.13L262.96,232.52L262.63,231.61L262.30,231.32L261.97,231.59L261.64,231.36L261.31,231.11L260.98,231.99L260.65,231.42L260.32,230.49L259.99,231.21L259.66,230.99L259.33,231.91L259.00,231.12L258.67,230.96L258.34,231.67L258.01,231.12L257.68,230.72L257.35,231.20L257.02,231.04L256.69,230.94L256.36,230.18L256.03,230.12L255.70,230.08L255.37,230.61L255.04,230.56L254.71,230.65L254.38,230.59L254.05,230.68L253.72,231.11L253.39,231.79L253.06,231.18L252.73,231.33L252.40,229.63L252.07,230.55L251.74,230.43L251.41,230.50L251.08,229.47L250.75,227.90L250.42,226.95L250.09,225.29L249.76,223.89L249.43,223.17L249.10,224.54L248.77,227.89L248.44,228.99L248.11,229.49L247.78,229.22L247.45,230.30L247.12,230.74L246.79,231.21L246.46,231.71L246.13,231.27L245.80,230.66L245.47,230.97L245.14,230.75L244.81,230.68L244.48,230.86L244.15,231.23L243.82,230.99L243.49,230.43L243.16,230.18L242.83,230.14L242.50,230.57L242.17,230.23L241.84,230.35L241.51,230.35L241.18,230.04L240.85,230.17L240.52,230.26L240.19,230.09L239.86,230.27L239.53,230.71L239.20,230.02L238.87,230.83L238.54,231.29L238.21,230.91L237.88,230.71L237.55,231.53L237.22,231.99L236.89,232.43L236.56,231.55L236.23,231.41L235.90,230.72L235.57,231.53L235.24,231.96L234.91,232.72L234.58,231.10L234.25,230.99L233.92,230.70L233.59,232.04L233.26,230.93L232.93,232.67L232.60,232.21L232.27,234.37L231.94,232.29L231.61,233.32L231.28,232.08L230.95,232.73L230.62,231.64L230.29,231.66L229.96,232.40L229.63,231.39L229.30,231.83L228.97,232.00L228.64,230.71L228.31,231.52L227.98,231.32L227.65,230.02L227.32,230.83L226.99,231.27L226.66,230.95L226.33,233.12L226.00,235.19L225.67,235.24L225.34,233.45L225.01,232.10L224.68,232.07L224.35,230.79L224.02,230.33L223.69,231.07L223.36,231.81L223.03,232.54L222.70,229.82L222.37,230.07L222.04,230.21L221.71,229.36L221.38,229.58L221.05,230.36L220.72,229.22L220.39,229.94L220.06,229.00L219.73,230.89L219.40,229.79L219.07,228.93L218.74,229.62L218.41,228.77L218.08,230.85L217.75,230.02L217.42,230.80L217.09,229.46L216.76,231.43L216.43,231.15L216.10,229.16L215.77,229.51L215.44,229.25L215.11,230.22L214.78,229.87L214.45,229.39L214.12,228.76L213.79,228.04L213.46,228.42L213.13,229.95L212.80,229.28L212.47,229.58L212.14,230.36L211.81,229.96L211.48,228.72L211.15,229.41L210.82,228.70L210.49,228.22L210.16,228.31L209.83,229.28L209.50,230.20L209.17,230.04L208.84,229.59L208.51,228.80L208.18,227.99L207.85,229.58L207.52,228.99L207.19,229.78L206.86,229.35L206.53,229.14L206.20,228.59L205.87,227.68L205.54,227.88L205.21,226.67L204.88,226.67L204.55,225.24L204.22,224.58L203.89,224.05L203.56,224.74L203.23,223.47L202.90,223.39L202.57,222.44L202.24,221.08L201.91,219.88L201.58,219.93L201.25,218.45L200.92,217.87L200.59,217.71Z" fill="#000" stroke="none"/>
<path d="M21.40,201.89L22.06,200.15L22.72,204.30L23.38,200.86L24.04,201.23L24.70,198.89L25.36,197.54L26.02,199.51L26.68,200.09L27.34,199.84L28.00,202.16L28.66,196.85L29.32,198.55L29.98,197.22L30.64,203.26L31.30,199.62L31.96,199.72L32.62,198.59L33.28,202.42L33.94,199.91L34.60,201.13L35.26,196.81L35.92,202.96L36.58,201.46L37.24,201.77L37.90,203.09L38.56,200.33L39.22,200.38L39.88,202.09L40.54,201.53L41.20,200.23L41.86,200.79L42.52,199.72L43.18,202.10L43.84,202.52L44.50,200.71L45.16,204.38L45.82,197.69L46.48,200.25L47.14,204.06L47.80,199.88L48.46,197.56L49.12,203.45L49.78,201.78L50.44,198.35L51.10,202.23L51.76,198.68L52.42,198.05L53.08,200.40L53.74,199.75L54.40,198.53L55.06,199.98L55.72,198.71L56.38,200.82L57.04,200.66L57.70,202.19L58.36,199.80L59.02,198.04L59.68,198.06L60.34,200.20L61.00,203.76L61.66,202.37L62.32,199.36L62.98,202.53L63.64,198.28L64.30,202.64L64.96,199.81L65.62,202.12L66.28,201.81L66.94,199.97L67.60,201.18L68.26,198.33L68.92,200.33L69.58,202.67L70.24,204.77L70.90,201.87L71.56,200.60L72.22,198.33L72.88,202.55L73.54,196.98L74.20,198.71L74.86,201.07L75.52,197.84L76.18,203.47L76.84,202.53L77.50,199.10L78.16,199.11L78.82,197.51L79.48,197.32L80.14,201.12L80.80,201.48L81.46,200.90L82.12,200.70L82.78,198.97L83.44,200.87L84.10,197.04L84.76,200.10L85.42,203.14L86.08,202.81L86.74,199.07L87.40,199.32L88.06,202.89L88.72,203.73L89.38,196.83L90.04,199.06L90.70,200.43L91.36,202.48L92.02,198.14L92.68,201.24L93.34,199.24L94.00,204.33L94.66,200.75L95.32,199.54L95.98,199.09L96.64,202.03L97.30,201.21L97.96,197.45L98.62,200.20L99.28,196.87L99.94,198.09L100.60,196.91L101.26,196.81L101.92,198.14L102.58,197.48L103.24,200.67L103.90,201.21L104.56,198.97L105.22,197.06L105.88,201.13L106.54,195.06L107.20,195.22L107.86,200.86L108.52,200.68L109.18,201.33L109.84,198.75L110.50,196.49L111.16,198.06L111.82,200.32L112.48,197.45L113.14,197.55L113.80,196.04L114.46,196.50L115.12,200.75L115.78,199.89L116.44,196.40L117.10,196.54L117.76,197.62L118.42,199.95L119.08,196.26L119.74,198.36L120.40,194.35L121.06,195.94L121.72,199.47L122.38,200.43L123.04,195.99L123.70,196.76L124.36,200.06L125.02,197.47L125.68,197.10L126.34,199.31L127.00,198.56L127.66,200.47L128.32,199.73L128.98,196.76L129.64,197.68L130.30,197.75L130.96,194.94L131.62,195.70L132.28,199.80L132.94,194.29L133.60,199.74L134.26,198.18L134.92,197.22L135.58,198.61L136.24,198.43L136.90,199.94L137.56,196.45L138.22,196.76L138.88,196.67L139.54,201.16L140.20,199.12L140.86,195.10L141.52,196.32L142.18,195.50L142.84,197.00L143.50,197.39L144.16,201.41L144.82,192.98L145.48,199.03L146.14,197.74L146.80,195.28L147.46,196.42L148.12,195.65L148.78,196.78L149.44,198.79L150.10,193.37L150.76,199.38L151.42,195.75L152.08,199.72L152.74,197.36L153.40,199.08L154.06,197.62L154.72,198.70L155.38,196.47L156.04,194.55L156.70,197.72L157.36,197.77L158.02,200.70L158.68,191.92L159.34,195.74L160.00,198.39L160.66,193.41L161.32,195.55L161.98,200.48L162.64,198.96L163.30,194.02L163.96,198.89L164.62,198.33L165.28,197.42L165.94,196.53L166.60,196.18L167.26,193.77L167.92,194.48L168.58,197.09L169.24,195.79L169.90,199.38L170.56,194.69L171.22,190.99L171.88,194.59L172.54,195.85L173.20,196.03L173.86,195.31L174.52,193.37L175.18,198.26L175.84,193.62L176.50,196.50L177.16,194.33L177.82,192.35L178.48,197.86L179.14,190.44L179.80,192.94L180.46,195.62L181.12,193.89L181.78,196.18L182.44,194.32L183.10,193.51L183.76,198.89L184.42,193.89L185.08,193.96L185.74,191.94L186.40,192.59L187.06,195.50L187.72,195.26L188.38,194.01L189.04,192.49L189.70,195.88L190.36,191.67L191.02,196.04L191.68,198.82L192.34,202.39L193.00,207.60L193.66,211.32L194.32,214.65L194.98,216.52L195.25,214.80L195.70,190.00L196.00,95.00L196.30,72.00L196.65,44.20L196.95,44.20L197.30,72.00L197.80,95.00L198.30,190.00L198.75,212.50L198.94,214.46L199.60,216.40L200.26,215.47L200.92,217.02L201.58,217.73L202.24,216.50L202.90,218.63L203.56,221.98L204.22,224.03L204.88,222.37L205.54,226.67L206.20,227.50L206.86,223.17L207.52,228.63L208.18,229.77L208.84,226.27L209.50,222.31L210.16,229.54L210.82,224.96L211.48,224.46L212.14,225.99L212.80,224.22L213.46,228.97L214.12,228.23L214.78,229.61L215.44,227.89L216.10,224.05L216.76,225.99L217.42,229.08L218.08,225.50L218.74,232.77L219.40,226.20L220.06,225.32L220.72,230.42L221.38,229.37L222.04,227.25L222.70,226.77L223.36,228.76L224.02,230.05L224.68,229.94L225.34,226.99L226.00,229.20L226.66,230.49L227.32,230.37L227.98,222.30L228.64,225.82L229.30,226.26L229.96,227.93L230.62,229.16L231.28,231.34L231.94,230.51L232.60,228.43L233.26,228.89L233.92,233.30L234.58,227.46L235.24,229.66L235.90,232.37L236.56,229.76L237.22,225.23L237.88,229.82L238.54,228.56L239.20,229.07L239.86,230.76L240.52,229.91L241.18,228.83L241.84,230.40L242.50,229.71L243.16,229.19L243.82,229.41L244.48,229.29L245.14,228.38L245.80,228.14L246.46,228.81L247.12,227.24L247.78,226.14L248.44,227.93L249.10,222.44L249.76,221.76L250.42,224.05L251.08,227.13L251.74,228.35L252.40,228.70L253.06,227.40L253.72,230.22L254.38,227.66L255.04,230.51L255.70,225.74L256.36,227.18L257.02,230.62L257.68,228.78L258.34,227.95L259.00,229.76L259.66,227.39L260.32,229.35L260.98,225.66L261.64,228.50L262.30,228.18L262.96,230.30L263.62,230.93L264.28,227.89L264.94,232.33L265.60,228.41L266.26,225.79L266.92,225.75L267.58,232.40L268.24,229.45L268.90,228.44L269.56,228.28L270.22,227.65L270.88,232.26L271.54,229.57L272.20,233.13L272.86,229.38L273.52,225.82L274.18,231.39L274.84,229.10L275.50,229.36L276.16,232.82L276.82,229.33L277.48,232.08L278.14,229.85L278.80,228.42L279.46,230.87L280.12,228.75L280.78,232.36L281.44,231.90L282.10,230.22L282.76,231.35L283.42,231.33L284.08,229.75L284.74,232.11L285.40,229.96L286.06,231.69L286.72,228.66L287.38,230.80L288.04,231.49L288.70,229.15L289.36,229.94L290.02,229.19L290.68,226.20L291.34,210.78L292.00,213.88L292.66,229.86L293.32,234.39L293.98,231.41L294.64,235.12L295.30,237.20L295.96,234.94L296.62,237.93L297.28,237.30L297.94,237.24L298.60,236.25L299.26,236.10L299.92,236.90L300.58,237.59L301.24,238.51L301.90,238.37L302.56,237.09L303.22,237.83L303.88,238.49L304.54,234.82L305.20,236.47L305.86,236.48L306.52,237.63L307.18,237.56L307.84,237.66L308.50,236.59L309.16,239.48L309.82,238.81L310.48,235.39L311.14,238.48L311.80,236.49L312.46,241.67L313.12,237.85L313.78,238.03L314.44,238.97L315.10,238.53L315.76,238.86L316.42,241.79L317.08,239.51L317.74,240.66L318.40,241.25L319.06,237.60L319.72,242.38L320.38,240.65L321.04,241.13L321.70,237.95L322.36,240.91L323.02,240.21L323.68,238.57L324.34,243.11L325.00,240.52L325.66,239.13L326.32,239.89L326.98,241.14L327.64,241.53L328.30,240.60L328.96,241.70L329.62,242.14L330.28,237.51L330.94,238.77L331.60,237.98L332.26,239.71L332.92,241.97L333.58,240.60L334.24,237.71L334.90,238.96L335.56,241.15L336.22,238.51L336.88,239.21L337.54,239.86L338.20,236.29L338.86,240.47L339.52,238.79L340.18,235.66L340.84,226.52L341.50,222.17L342.16,225.17L342.82,233.36L343.48,237.64L344.14,239.24L344.80,242.22L345.46,241.52L346.12,238.41L346.78,238.66L347.44,242.47L348.10,239.47L348.76,242.15L349.42,242.58L350.08,239.55L350.74,240.08L351.40,240.70L352.06,239.50L352.72,239.48L353.38,240.40L354.04,242.18L354.70,240.59L355.36,241.07L356.02,240.96L356.68,240.07L357.34,243.76L358.00,239.66L358.66,241.55L359.32,242.62L359.98,236.87L360.64,230.18L361.30,230.26L361.96,236.92L362.62,242.34L363.28,241.85L363.94,244.17L364.60,244.12L365.26,244.28L365.92,245.58L366.58,244.61L367.24,245.47L367.90,243.02L368.56,238.04L369.22,242.23L369.88,244.54L370.54,242.62L371.20,245.69L371.86,244.33L372.52,244.69L373.18,243.34L373.84,244.43L374.50,244.70L375.16,244.05L375.82,244.52L376.48,242.21L377.14,245.96L377.80,243.33L378.46,242.31L379.12,243.56L379.78,243.72L380.44,245.20L381.10,243.66L381.76,244.94L382.42,243.63L383.08,246.84L383.74,245.24L384.40,246.73L385.06,243.62L385.72,245.39L386.38,243.70L387.04,245.31L387.70,245.42L388.36,243.09L389.02,243.64L389.68,243.48L390.34,241.32L391.00,238.95L391.66,240.88L392.32,243.20L392.98,245.30L393.64,245.84L394.30,243.98L394.96,244.77L395.62,245.37L396.28,245.14L396.94,244.68L397.60,246.23L398.26,246.28L398.92,246.13L399.58,245.25L400.24,247.48L400.90,247.24L401.56,245.11" fill="none" stroke="#000" stroke-width="1.5" stroke-linejoin="round"/>
<g stroke="#a8a8a8" fill="none" stroke-width="1">
<line x1="443.0" y1="0" x2="443.0" y2="145.8" stroke="#bdbdbd" stroke-width="1.2"/>
<line x1="442.4" y1="145.2" x2="683.4" y2="145.2" stroke="#bcbcbc" stroke-width="1.2"/>
</g>
<g stroke="#555" stroke-width="0.7">
<line x1="441.2" y1="134.40" x2="442.5" y2="134.40"/>
<line x1="441.2" y1="110.62" x2="442.5" y2="110.62"/>
<line x1="441.2" y1="86.84" x2="442.5" y2="86.84"/>
<line x1="441.2" y1="63.06" x2="442.5" y2="63.06"/>
<line x1="441.2" y1="39.28" x2="442.5" y2="39.28"/>
<line x1="441.2" y1="15.50" x2="442.5" y2="15.50"/>
<line x1="453.70" y1="145.7" x2="453.70" y2="146.9"/>
<line x1="497.70" y1="145.7" x2="497.70" y2="146.9"/>
<line x1="541.70" y1="145.7" x2="541.70" y2="146.9"/>
<line x1="585.70" y1="145.7" x2="585.70" y2="146.9"/>
<line x1="629.70" y1="145.7" x2="629.70" y2="146.9"/>
<line x1="673.70" y1="145.7" x2="673.70" y2="146.9"/>
</g>
<g font-family="Liberation Sans" font-size="5.3" fill="#333" text-anchor="end">
<text x="439.8" y="136.90">0</text>
<text x="439.8" y="113.12">200</text>
<text x="439.8" y="89.34">400</text>
<text x="439.8" y="65.56">600</text>
<text x="439.8" y="41.78">800</text>
<text x="439.8" y="18.00">1000</text>
</g>
<g font-family="Liberation Sans" font-size="5.3" fill="#333" text-anchor="middle">
<text x="453.90" y="151.9">292</text>
<text x="497.90" y="151.9">290</text>
<text x="541.90" y="151.9">288</text>
<text x="585.90" y="151.9">286</text>
<text x="629.90" y="151.9">284</text>
<text x="673.90" y="151.9">282</text>
</g>
<text font-family="Liberation Sans" font-size="5.4" fill="#333" x="540" y="159.3" textLength="47.2" lengthAdjust="spacingAndGlyphs">Binding Energy (eV)</text>
<text font-family="Liberation Sans" font-size="5.3" fill="#333" transform="translate(425.3,89) rotate(-90)" textLength="35.7" lengthAdjust="spacingAndGlyphs">Intensity (a.u.)</text>
<text font-family="Liberation Serif" font-weight="bold" font-size="14.2" x="450.5" y="21.9">C 1s</text>
<line x1="474" y1="134.40" x2="632" y2="134.40" stroke="#000" stroke-width="0.7" stroke-dasharray="1.4 0.8"/>
<path d="M462.50,134.15L463.16,134.12L463.82,134.09L464.48,134.05L465.14,134.02L465.80,133.97L466.46,133.93L467.12,133.88L467.78,133.83L468.44,133.77L469.10,133.71L469.76,133.64L470.42,133.56L471.08,133.49L471.74,133.40L472.40,133.31L473.06,133.21L473.72,133.10L474.38,132.99L475.04,132.87L475.70,132.74L476.36,132.60L477.02,132.46L477.68,132.30L478.34,132.14L479.00,131.97L479.66,131.78L480.32,131.59L480.98,131.39L481.64,131.18L482.30,130.95L482.96,130.72L483.62,130.48L484.28,130.22L484.94,129.96L485.60,129.69L486.26,129.40L486.92,129.11L487.58,128.81L488.24,128.50L488.90,128.18L489.56,127.85L490.22,127.52L490.88,127.17L491.54,126.83L492.20,126.47L492.86,126.11L493.52,125.75L494.18,125.38L494.84,125.01L495.50,124.64L496.16,124.27L496.82,123.90L497.48,123.54L498.14,123.17L498.80,122.81L499.46,122.45L500.12,122.10L500.78,121.76L501.44,121.43L502.10,121.11L502.76,120.79L503.42,120.49L504.08,120.21L504.74,119.94L505.40,119.68L506.06,119.44L506.72,119.22L507.38,119.01L508.04,118.83L508.70,118.66L509.36,118.52L510.02,118.39L510.68,118.29L511.34,118.21L512.00,118.16L512.66,118.12L513.32,118.11L513.98,118.12L514.64,118.16L515.30,118.21L515.96,118.29L516.62,118.39L517.28,118.52L517.94,118.66L518.60,118.83L519.26,119.01L519.92,119.22L520.58,119.44L521.24,119.68L521.90,119.94L522.56,120.21L523.22,120.49L523.88,120.79L524.54,121.11L525.20,121.43L525.86,121.76L526.52,122.10L527.18,122.45L527.84,122.81L528.50,123.17L529.16,123.54L529.82,123.90L530.48,124.27L531.14,124.64L531.80,125.01L532.46,125.38L533.12,125.75L533.78,126.11L534.44,126.47L535.10,126.83L535.76,127.17L536.42,127.52L537.08,127.85L537.74,128.18L538.40,128.50L539.06,128.81L539.72,129.11L540.38,129.40L541.04,129.69L541.70,129.96L542.36,130.22L543.02,130.48L543.68,130.72L544.34,130.95L545.00,131.18L545.66,131.39L546.32,131.59L546.98,131.78L547.64,131.97L548.30,132.14L548.96,132.30L549.62,132.46L550.28,132.60L550.94,132.74L551.60,132.87L552.26,132.99L552.92,133.10L553.58,133.21L554.24,133.31L554.90,133.40L555.56,133.49L556.22,133.56L556.88,133.64L557.54,133.71L558.20,133.77L558.86,133.83L559.52,133.88L560.18,133.93L560.84,133.97L561.50,134.02L562.16,134.05L562.82,134.09L563.48,134.12L564.14,134.15L564.80,134.17L565.46,134.20L566.12,134.22L566.78,134.24L567.44,134.26L568.10,134.27L568.76,134.29L569.42,134.30L570.08,134.31L570.74,134.32L571.40,134.33L572.06,134.34L572.72,134.35L573.38,134.35L574.04,134.36L574.70,134.36L575.36,134.37L576.02,134.37L576.68,134.38L577.34,134.38L578.00,134.38L578.66,134.38L579.32,134.39L579.98,134.39L580.64,134.39L581.30,134.39L581.96,134.39L582.62,134.39L583.28,134.39L583.94,134.39L584.60,134.40L585.26,134.40L585.92,134.40L586.58,134.40L587.24,134.40L587.90,134.40L588.56,134.40L589.22,134.40L589.88,134.40L590.54,134.40L591.20,134.40L591.86,134.40L592.52,134.40L593.18,134.40L593.84,134.40L594.50,134.40L595.16,134.40L595.82,134.40L596.48,134.40L597.14,134.40L597.80,134.40L598.46,134.40L599.12,134.40L599.78,134.40L600.44,134.40L601.10,134.40L601.76,134.40L602.42,134.40L603.08,134.40L603.74,134.40L604.40,134.40L605.06,134.40L605.72,134.40L606.38,134.40L607.04,134.40L607.70,134.40L608.36,134.40L609.02,134.40L609.68,134.40L610.34,134.40L611.00,134.40L611.66,134.40L612.32,134.40L612.98,134.40L613.64,134.40L614.30,134.40L614.96,134.40L615.62,134.40L616.28,134.40L616.94,134.40L617.60,134.40L618.26,134.40L618.92,134.40L619.58,134.40L620.24,134.40L620.90,134.40L621.56,134.40L622.22,134.40L622.88,134.40L623.54,134.40L624.20,134.40L624.86,134.40L625.52,134.40L626.18,134.40L626.84,134.40L627.50,134.40L628.16,134.40L628.82,134.40L629.48,134.40L630.14,134.40L630.80,134.40L631.46,134.40L632.12,134.40L632.78,134.40L633.44,134.40L634.10,134.40L634.76,134.40L635.42,134.40L636.08,134.40L636.74,134.40L637.40,134.40L638.06,134.40L638.72,134.40L639.38,134.40L640.04,134.40L640.70,134.40L641.36,134.40L642.02,134.40L642.68,134.40" fill="none" stroke="#000" stroke-width="0.7" stroke-dasharray="1.4 0.8"/>
<path d="M462.50,134.29L463.16,134.27L463.82,134.26L464.48,134.25L465.14,134.23L465.80,134.21L466.46,134.19L467.12,134.17L467.78,134.15L468.44,134.13L469.10,134.10L469.76,134.07L470.42,134.04L471.08,134.01L471.74,133.97L472.40,133.93L473.06,133.89L473.72,133.84L474.38,133.79L475.04,133.74L475.70,133.68L476.36,133.62L477.02,133.56L477.68,133.49L478.34,133.41L479.00,133.33L479.66,133.25L480.32,133.16L480.98,133.06L481.64,132.96L482.30,132.85L482.96,132.74L483.62,132.61L484.28,132.48L484.94,132.35L485.60,132.21L486.26,132.05L486.92,131.89L487.58,131.73L488.24,131.55L488.90,131.37L489.56,131.17L490.22,130.97L490.88,130.76L491.54,130.54L492.20,130.31L492.86,130.08L493.52,129.83L494.18,129.57L494.84,129.30L495.50,129.03L496.16,128.74L496.82,128.45L497.48,128.15L498.14,127.83L498.80,127.51L499.46,127.18L500.12,126.85L500.78,126.50L501.44,126.15L502.10,125.79L502.76,125.42L503.42,125.05L504.08,124.67L504.74,124.29L505.40,123.90L506.06,123.50L506.72,123.11L507.38,122.71L508.04,122.31L508.70,121.90L509.36,121.50L510.02,121.10L510.68,120.70L511.34,120.30L512.00,119.90L512.66,119.51L513.32,119.12L513.98,118.73L514.64,118.36L515.30,117.99L515.96,117.63L516.62,117.28L517.28,116.93L517.94,116.60L518.60,116.28L519.26,115.98L519.92,115.68L520.58,115.40L521.24,115.14L521.90,114.89L522.56,114.66L523.22,114.45L523.88,114.25L524.54,114.07L525.20,113.91L525.86,113.77L526.52,113.65L527.18,113.55L527.84,113.47L528.50,113.41L529.16,113.37L529.82,113.36L530.48,113.36L531.14,113.38L531.80,113.43L532.46,113.50L533.12,113.58L533.78,113.69L534.44,113.82L535.10,113.96L535.76,114.13L536.42,114.31L537.08,114.52L537.74,114.74L538.40,114.97L539.06,115.23L539.72,115.50L540.38,115.78L541.04,116.08L541.70,116.39L542.36,116.71L543.02,117.05L543.68,117.39L544.34,117.75L545.00,118.11L545.66,118.48L546.32,118.86L546.98,119.25L547.64,119.64L548.30,120.03L548.96,120.43L549.62,120.83L550.28,121.23L550.94,121.64L551.60,122.04L552.26,122.44L552.92,122.84L553.58,123.24L554.24,123.63L554.90,124.03L555.56,124.41L556.22,124.80L556.88,125.17L557.54,125.54L558.20,125.91L558.86,126.27L559.52,126.62L560.18,126.96L560.84,127.29L561.50,127.62L562.16,127.94L562.82,128.25L563.48,128.55L564.14,128.84L564.80,129.12L565.46,129.39L566.12,129.66L566.78,129.91L567.44,130.16L568.10,130.39L568.76,130.62L569.42,130.83L570.08,131.04L570.74,131.24L571.40,131.43L572.06,131.61L572.72,131.78L573.38,131.95L574.04,132.11L574.70,132.25L575.36,132.39L576.02,132.53L576.68,132.66L577.34,132.77L578.00,132.89L578.66,132.99L579.32,133.09L579.98,133.19L580.64,133.28L581.30,133.36L581.96,133.44L582.62,133.51L583.28,133.58L583.94,133.64L584.60,133.70L585.26,133.76L585.92,133.81L586.58,133.86L587.24,133.90L587.90,133.94L588.56,133.98L589.22,134.02L589.88,134.05L590.54,134.08L591.20,134.11L591.86,134.13L592.52,134.16L593.18,134.18L593.84,134.20L594.50,134.22L595.16,134.24L595.82,134.25L596.48,134.27L597.14,134.28L597.80,134.29L598.46,134.30L599.12,134.31L599.78,134.32L600.44,134.33L601.10,134.33L601.76,134.34L602.42,134.35L603.08,134.35L603.74,134.36L604.40,134.36L605.06,134.37L605.72,134.37L606.38,134.37L607.04,134.38L607.70,134.38L608.36,134.38L609.02,134.38L609.68,134.39L610.34,134.39L611.00,134.39L611.66,134.39L612.32,134.39L612.98,134.39L613.64,134.39L614.30,134.39L614.96,134.39L615.62,134.40L616.28,134.40L616.94,134.40L617.60,134.40L618.26,134.40L618.92,134.40L619.58,134.40L620.24,134.40L620.90,134.40L621.56,134.40L622.22,134.40L622.88,134.40L623.54,134.40L624.20,134.40L624.86,134.40L625.52,134.40L626.18,134.40L626.84,134.40L627.50,134.40L628.16,134.40L628.82,134.40L629.48,134.40L630.14,134.40L630.80,134.40L631.46,134.40L632.12,134.40L632.78,134.40L633.44,134.40L634.10,134.40L634.76,134.40L635.42,134.40L636.08,134.40L636.74,134.40L637.40,134.40L638.06,134.40L638.72,134.40L639.38,134.40L640.04,134.40L640.70,134.40L641.36,134.40L642.02,134.40L642.68,134.40" fill="none" stroke="#000" stroke-width="0.7" stroke-dasharray="1.4 0.8"/>
<path d="M462.50,134.40L463.16,134.40L463.82,134.40L464.48,134.40L465.14,134.40L465.80,134.40L466.46,134.40L467.12,134.40L467.78,134.40L468.44,134.40L469.10,134.40L469.76,134.40L470.42,134.40L471.08,134.40L471.74,134.40L472.40,134.40L473.06,134.40L473.72,134.40L474.38,134.40L475.04,134.40L475.70,134.40L476.36,134.40L477.02,134.40L477.68,134.40L478.34,134.40L479.00,134.40L479.66,134.40L480.32,134.40L480.98,134.40L481.64,134.40L482.30,134.40L482.96,134.40L483.62,134.40L484.28,134.40L484.94,134.40L485.60,134.40L486.26,134.40L486.92,134.40L487.58,134.40L488.24,134.40L488.90,134.40L489.56,134.40L490.22,134.40L490.88,134.40L491.54,134.40L492.20,134.40L492.86,134.40L493.52,134.40L494.18,134.40L494.84,134.40L495.50,134.40L496.16,134.40L496.82,134.40L497.48,134.40L498.14,134.40L498.80,134.40L499.46,134.40L500.12,134.40L500.78,134.40L501.44,134.40L502.10,134.40L502.76,134.40L503.42,134.40L504.08,134.40L504.74,134.40L505.40,134.40L506.06,134.40L506.72,134.40L507.38,134.40L508.04,134.40L508.70,134.40L509.36,134.40L510.02,134.40L510.68,134.40L511.34,134.40L512.00,134.40L512.66,134.39L513.32,134.39L513.98,134.39L514.64,134.39L515.30,134.39L515.96,134.39L516.62,134.39L517.28,134.38L517.94,134.38L518.60,134.38L519.26,134.37L519.92,134.37L520.58,134.37L521.24,134.36L521.90,134.36L522.56,134.35L523.22,134.34L523.88,134.33L524.54,134.32L525.20,134.31L525.86,134.30L526.52,134.29L527.18,134.27L527.84,134.26L528.50,134.24L529.16,134.22L529.82,134.20L530.48,134.17L531.14,134.14L531.80,134.11L532.46,134.07L533.12,134.03L533.78,133.99L534.44,133.94L535.10,133.89L535.76,133.84L536.42,133.77L537.08,133.70L537.74,133.63L538.40,133.55L539.06,133.46L539.72,133.36L540.38,133.26L541.04,133.14L541.70,133.02L542.36,132.89L543.02,132.74L543.68,132.59L544.34,132.42L545.00,132.25L545.66,132.06L546.32,131.85L546.98,131.64L547.64,131.41L548.30,131.16L548.96,130.90L549.62,130.63L550.28,130.33L550.94,130.03L551.60,129.70L552.26,129.37L552.92,129.01L553.58,128.64L554.24,128.25L554.90,127.84L555.56,127.42L556.22,126.98L556.88,126.53L557.54,126.06L558.20,125.57L558.86,125.07L559.52,124.56L560.18,124.04L560.84,123.50L561.50,122.95L562.16,122.39L562.82,121.83L563.48,121.25L564.14,120.67L564.80,120.09L565.46,119.50L566.12,118.92L566.78,118.33L567.44,117.74L568.10,117.16L568.76,116.59L569.42,116.02L570.08,115.46L570.74,114.92L571.40,114.39L572.06,113.87L572.72,113.38L573.38,112.90L574.04,112.45L574.70,112.01L575.36,111.61L576.02,111.23L576.68,110.88L577.34,110.56L578.00,110.27L578.66,110.01L579.32,109.78L579.98,109.60L580.64,109.44L581.30,109.33L581.96,109.24L582.62,109.20L583.28,109.20L583.94,109.23L584.60,109.29L585.26,109.40L585.92,109.54L586.58,109.72L587.24,109.93L587.90,110.18L588.56,110.46L589.22,110.77L589.88,111.11L590.54,111.48L591.20,111.88L591.86,112.30L592.52,112.75L593.18,113.22L593.84,113.71L594.50,114.22L595.16,114.74L595.82,115.28L596.48,115.83L597.14,116.40L597.80,116.97L598.46,117.55L599.12,118.13L599.78,118.72L600.44,119.31L601.10,119.89L601.76,120.48L602.42,121.06L603.08,121.64L603.74,122.21L604.40,122.77L605.06,123.32L605.72,123.86L606.38,124.39L607.04,124.91L607.70,125.41L608.36,125.90L609.02,126.37L609.68,126.83L610.34,127.28L611.00,127.70L611.66,128.11L612.32,128.51L612.98,128.89L613.64,129.25L614.30,129.59L614.96,129.92L615.62,130.23L616.28,130.53L616.94,130.81L617.60,131.08L618.26,131.33L618.92,131.56L619.58,131.78L620.24,131.99L620.90,132.18L621.56,132.37L622.22,132.54L622.88,132.69L623.54,132.84L624.20,132.98L624.86,133.10L625.52,133.22L626.18,133.33L626.84,133.43L627.50,133.52L628.16,133.60L628.82,133.68L629.48,133.75L630.14,133.82L630.80,133.87L631.46,133.93L632.12,133.98L632.78,134.02L633.44,134.06L634.10,134.10L634.76,134.13L635.42,134.16L636.08,134.19L636.74,134.21L637.40,134.23L638.06,134.25L638.72,134.27L639.38,134.28L640.04,134.30L640.70,134.31L641.36,134.32L642.02,134.33L642.68,134.34" fill="none" stroke="#000" stroke-width="0.7" stroke-dasharray="1.4 0.8"/>
<path d="M462.50,134.40L463.16,134.40L463.82,134.40L464.48,134.40L465.14,134.40L465.80,134.40L466.46,134.40L467.12,134.40L467.78,134.40L468.44,134.40L469.10,134.40L469.76,134.40L470.42,134.40L471.08,134.40L471.74,134.40L472.40,134.40L473.06,134.40L473.72,134.40L474.38,134.40L475.04,134.40L475.70,134.40L476.36,134.40L477.02,134.40L477.68,134.40L478.34,134.40L479.00,134.40L479.66,134.40L480.32,134.40L480.98,134.40L481.64,134.40L482.30,134.40L482.96,134.40L483.62,134.40L484.28,134.40L484.94,134.40L485.60,134.40L486.26,134.40L486.92,134.40L487.58,134.40L488.24,134.40L488.90,134.40L489.56,134.40L490.22,134.40L490.88,134.40L491.54,134.40L492.20,134.40L492.86,134.40L493.52,134.40L494.18,134.40L494.84,134.40L495.50,134.40L496.16,134.40L496.82,134.40L497.48,134.40L498.14,134.40L498.80,134.40L499.46,134.40L500.12,134.40L500.78,134.40L501.44,134.40L502.10,134.40L502.76,134.40L503.42,134.40L504.08,134.40L504.74,134.40L505.40,134.40L506.06,134.40L506.72,134.40L507.38,134.40L508.04,134.40L508.70,134.40L509.36,134.40L510.02,134.40L510.68,134.40L511.34,134.40L512.00,134.40L512.66,134.40L513.32,134.40L513.98,134.40L514.64,134.40L515.30,134.40L515.96,134.40L516.62,134.40L517.28,134.40L517.94,134.40L518.60,134.40L519.26,134.40L519.92,134.40L520.58,134.40L521.24,134.40L521.90,134.40L522.56,134.40L523.22,134.40L523.88,134.40L524.54,134.40L525.20,134.40L525.86,134.40L526.52,134.40L527.18,134.40L527.84,134.40L528.50,134.40L529.16,134.40L529.82,134.40L530.48,134.40L531.14,134.40L531.80,134.40L532.46,134.40L533.12,134.40L533.78,134.40L534.44,134.40L535.10,134.40L535.76,134.40L536.42,134.40L537.08,134.40L537.74,134.40L538.40,134.40L539.06,134.40L539.72,134.40L540.38,134.40L541.04,134.40L541.70,134.40L542.36,134.40L543.02,134.40L543.68,134.40L544.34,134.40L545.00,134.40L545.66,134.40L546.32,134.40L546.98,134.40L547.64,134.40L548.30,134.40L548.96,134.40L549.62,134.40L550.28,134.40L550.94,134.40L551.60,134.40L552.26,134.40L552.92,134.40L553.58,134.40L554.24,134.40L554.90,134.40L555.56,134.40L556.22,134.40L556.88,134.40L557.54,134.40L558.20,134.40L558.86,134.40L559.52,134.40L560.18,134.40L560.84,134.40L561.50,134.40L562.16,134.40L562.82,134.40L563.48,134.40L564.14,134.40L564.80,134.40L565.46,134.40L566.12,134.40L566.78,134.40L567.44,134.40L568.10,134.40L568.76,134.40L569.42,134.40L570.08,134.40L570.74,134.40L571.40,134.40L572.06,134.40L572.72,134.39L573.38,134.39L574.04,134.39L574.70,134.38L575.36,134.38L576.02,134.37L576.68,134.35L577.34,134.34L578.00,134.31L578.66,134.28L579.32,134.24L579.98,134.18L580.64,134.10L581.30,134.00L581.96,133.87L582.62,133.71L583.28,133.50L583.94,133.23L584.60,132.89L585.26,132.46L585.92,131.94L586.58,131.30L587.24,130.52L587.90,129.57L588.56,128.44L589.22,127.09L589.88,125.51L590.54,123.66L591.20,121.51L591.86,119.04L592.52,116.24L593.18,113.07L593.84,109.53L594.50,105.61L595.16,101.31L595.82,96.64L596.48,91.61L597.14,86.26L597.80,80.62L598.46,74.76L599.12,68.72L599.78,62.59L600.44,56.44L601.10,50.37L601.76,44.47L602.42,38.84L603.08,33.59L603.74,28.80L604.40,24.57L605.06,20.98L605.72,18.11L606.38,16.01L607.04,14.74L607.70,14.31L608.36,14.74L609.02,16.01L609.68,18.11L610.34,20.98L611.00,24.57L611.66,28.80L612.32,33.59L612.98,38.84L613.64,44.47L614.30,50.37L614.96,56.44L615.62,62.59L616.28,68.72L616.94,74.76L617.60,80.62L618.26,86.26L618.92,91.61L619.58,96.64L620.24,101.31L620.90,105.61L621.56,109.53L622.22,113.07L622.88,116.24L623.54,119.04L624.20,121.51L624.86,123.66L625.52,125.51L626.18,127.09L626.84,128.44L627.50,129.57L628.16,130.52L628.82,131.30L629.48,131.94L630.14,132.46L630.80,132.89L631.46,133.23L632.12,133.50L632.78,133.71L633.44,133.87L634.10,134.00L634.76,134.10L635.42,134.18L636.08,134.24L636.74,134.28L637.40,134.31L638.06,134.34L638.72,134.35L639.38,134.37L640.04,134.38L640.70,134.38L641.36,134.39L642.02,134.39L642.68,134.39" fill="none" stroke="#000" stroke-width="0.7" stroke-dasharray="1.4 0.8"/>
<path d="M453.70,136.81L454.14,135.17L454.58,134.15L455.02,133.78L455.46,133.70L455.90,132.60L456.34,133.27L456.78,133.19L457.22,135.77L457.66,134.52L458.10,129.46L458.54,130.83L458.98,132.99L459.42,133.11L459.86,132.72L460.30,134.80L460.74,131.21L461.18,134.72L461.62,134.25L462.06,130.81L462.50,137.23L462.94,133.51L463.38,136.64L463.82,134.99L464.26,134.10L464.70,134.46L465.14,133.63L465.58,135.02L466.02,133.97L466.46,135.57L466.90,134.31L467.34,135.78L467.78,132.63L468.22,135.54L468.66,132.46L469.10,134.08L469.54,133.85L469.98,131.53L470.42,133.09L470.86,136.06L471.30,132.34L471.74,137.44L472.18,132.52L472.62,133.45L473.06,134.88L473.50,132.52L473.94,133.01L474.38,129.37L474.82,132.99L475.26,129.23L475.70,129.96L476.14,132.87L476.58,133.05L477.02,129.64L477.46,131.72L477.90,131.11L478.34,131.59L478.78,132.88L479.22,131.43L479.66,132.15L480.10,132.84L480.54,130.75L480.98,127.36L481.42,127.41L481.86,129.77L482.30,129.24L482.74,128.43L483.18,126.90L483.62,128.25L484.06,129.22L484.50,128.82L484.94,126.22L485.38,123.68L485.82,128.36L486.26,130.25L486.70,125.56L487.14,126.61L487.58,125.97L488.02,123.96L488.46,125.42L488.90,127.23L489.34,127.86L489.78,124.56L490.22,125.91L490.66,123.32L491.10,125.35L491.54,123.55L491.98,124.88L492.42,122.79L492.86,122.51L493.30,120.50L493.74,118.94L494.18,120.87L494.62,121.49L495.06,116.73L495.50,118.75L495.94,117.93L496.38,117.49L496.82,115.74L497.26,115.98L497.70,116.04L498.14,115.45L498.58,117.50L499.02,116.65L499.46,115.42L499.90,114.65L500.34,114.31L500.78,113.40L501.22,113.38L501.66,113.62L502.10,115.00L502.54,110.75L502.98,110.68L503.42,112.49L503.86,109.92L504.30,109.64L504.74,109.69L505.18,112.20L505.62,110.80L506.06,109.44L506.50,105.60L506.94,109.00L507.38,107.81L507.82,108.59L508.26,107.24L508.70,105.57L509.14,108.92L509.58,109.73L510.02,103.98L510.46,104.60L510.90,105.25L511.34,102.49L511.78,102.18L512.22,106.60L512.66,103.33L513.10,101.08L513.54,103.55L513.98,102.75L514.42,100.55L514.86,102.20L515.30,103.41L515.74,102.41L516.18,103.21L516.62,100.12L517.06,103.47L517.50,99.11L517.94,103.05L518.38,100.31L518.82,102.53L519.26,100.66L519.70,98.50L520.14,98.27L520.58,97.93L521.02,100.03L521.46,99.70L521.90,99.48L522.34,98.88L522.78,100.46L523.22,98.16L523.66,99.38L524.10,98.16L524.54,99.25L524.98,99.00L525.42,101.26L525.86,100.86L526.30,102.32L526.74,100.89L527.18,100.83L527.62,99.40L528.06,102.78L528.50,95.99L528.94,101.34L529.38,99.38L529.82,99.90L530.26,105.59L530.70,102.29L531.14,99.82L531.58,106.05L532.02,101.34L532.46,104.17L532.90,103.71L533.34,102.88L533.78,106.35L534.22,103.42L534.66,104.97L535.10,105.39L535.54,103.41L535.98,99.34L536.42,104.50L536.86,104.44L537.30,105.65L537.74,106.96L538.18,105.72L538.62,104.06L539.06,106.39L539.50,105.58L539.94,107.59L540.38,103.62L540.82,110.34L541.26,107.17L541.70,107.51L542.14,108.21L542.58,110.61L543.02,110.91L543.46,109.78L543.90,109.52L544.34,111.81L544.78,111.83L545.22,109.56L545.66,109.08L546.10,111.78L546.54,112.22L546.98,112.49L547.42,107.75L547.86,111.03L548.30,112.09L548.74,110.63L549.18,108.83L549.62,110.75L550.06,114.93L550.50,113.02L550.94,113.67L551.38,113.72L551.82,115.21L552.26,114.06L552.70,115.25L553.14,113.15L553.58,113.70L554.02,116.05L554.46,116.58L554.90,114.75L555.34,113.05L555.78,113.34L556.22,114.24L556.66,119.28L557.10,114.94L557.54,115.33L557.98,114.69L558.42,116.05L558.86,114.80L559.30,115.12L559.74,109.84L560.18,112.90L560.62,114.22L561.06,113.92L561.50,113.94L561.94,113.37L562.38,114.19L562.82,113.47L563.26,111.74L563.70,111.91L564.14,112.59L564.58,110.86L565.02,112.43L565.46,114.14L565.90,115.17L566.34,113.38L566.78,112.23L567.22,111.34L567.66,110.11L568.10,112.50L568.54,112.67L568.98,110.05L569.42,109.23L569.86,111.62L570.30,110.17L570.74,108.38L571.18,109.83L571.62,110.23L572.06,113.19L572.50,107.74L572.94,108.62L573.38,109.26L573.82,110.01L574.26,111.07L574.70,109.14L575.14,109.00L575.58,107.00L576.02,110.44L576.46,106.21L576.90,108.27L577.34,106.37L577.78,109.61L578.22,107.47L578.66,106.03L579.10,107.66L579.54,110.03L579.98,108.19L580.42,106.78L580.86,109.72L581.30,109.72L581.74,107.05L582.18,108.83L582.62,106.23L583.06,109.03L583.50,109.96L583.94,108.22L584.38,104.59L584.82,108.10L585.26,106.60L585.70,106.02L586.14,107.64L586.58,104.20L587.02,105.30L587.46,104.50L587.90,107.35L588.34,106.95L588.78,107.91L589.22,103.26L589.66,102.55L590.10,100.20L590.54,98.03L590.98,99.62L591.42,98.41L591.86,95.93L592.30,92.74L592.74,94.72L593.18,90.67L593.62,90.04L594.06,88.05L594.50,83.97L594.94,83.99L595.38,81.80L595.82,76.34L596.26,74.47L596.70,71.76L597.14,68.35L597.58,64.04L598.02,61.94L598.46,56.64L598.90,53.57L599.34,48.26L599.78,44.89L600.22,41.82L600.66,39.78L601.10,35.65L601.54,33.19L601.98,24.40L602.42,25.83L602.86,21.47L603.30,17.25L603.74,18.71L604.18,15.37L604.62,12.46L605.06,11.44L605.50,10.24L605.94,7.77L606.38,4.02L606.82,4.30L607.26,5.14L607.70,5.30L608.14,8.43L608.58,5.68L609.02,7.36L609.46,11.31L609.90,11.28L610.34,14.19L610.78,17.29L611.22,20.92L611.66,23.59L612.10,27.41L612.54,28.85L612.98,32.81L613.42,36.83L613.86,41.70L614.30,46.24L614.74,46.70L615.18,57.03L615.62,56.61L616.06,62.21L616.50,66.91L616.94,72.00L617.38,75.66L617.82,81.17L618.26,85.37L618.70,87.16L619.14,93.16L619.58,92.77L620.02,95.64L620.46,105.80L620.90,105.84L621.34,105.80L621.78,108.49L622.22,111.08L622.66,112.86L623.10,114.45L623.54,116.19L623.98,116.53L624.42,120.88L624.86,121.07L625.30,126.25L625.74,125.17L626.18,127.95L626.62,124.90L627.06,124.33L627.50,127.89L627.94,131.45L628.38,130.24L628.82,130.57L629.26,130.80L629.70,129.86L630.14,130.44L630.58,136.35L631.02,130.43L631.46,133.56L631.90,133.88L632.34,131.01L632.78,133.78L633.22,135.63L633.66,135.68L634.10,133.65L634.54,132.43L634.98,131.59L635.42,134.24L635.86,134.76L636.30,131.58L636.74,134.84L637.18,131.91L637.62,133.83L638.06,133.86L638.50,134.61L638.94,133.81L639.38,135.01L639.82,135.35L640.26,134.53L640.70,135.34L641.14,133.87L641.58,134.22L642.02,134.76L642.46,134.67L642.90,134.73L643.34,131.69L643.78,134.40L644.22,135.31L644.66,134.85L645.10,133.37L645.54,134.71L645.98,134.64L646.42,134.80L646.86,134.16L647.30,133.81L647.74,133.73L648.18,136.94L648.62,136.07L649.06,138.48L649.50,133.18L649.94,132.71L650.38,132.42L650.82,134.20L651.26,132.65L651.70,134.49L652.14,134.62L652.58,136.81L653.02,135.64L653.46,135.35L653.90,133.01L654.34,131.87L654.78,135.16L655.22,133.86L655.66,134.01L656.10,135.63L656.54,137.09L656.98,135.60L657.42,136.66L657.86,134.92L658.30,134.66L658.74,134.72L659.18,134.70L659.62,133.69L660.06,135.88L660.50,133.07L660.94,137.02L661.38,134.34L661.82,133.84L662.26,135.66L662.70,136.90L663.14,133.46L663.58,135.48L664.02,133.23L664.46,133.26L664.90,134.45L665.34,134.44L665.78,132.92L666.22,133.86L666.66,135.88L667.10,134.18L667.54,133.59L667.98,134.13L668.42,134.15L668.86,134.67L669.30,134.62L669.74,135.88L670.18,136.65L670.62,132.71L671.06,135.42L671.50,134.10L671.94,136.75L672.38,134.20L672.82,135.72L673.26,129.87L673.70,136.01" fill="none" stroke="#000" stroke-width="1.25" stroke-linejoin="round"/>
<g stroke="#a8a8a8" fill="none" stroke-width="1">
<line x1="441.2" y1="167" x2="441.2" y2="312.9" stroke="#a0a0a0" stroke-width="1.2"/>
<line x1="440.6" y1="312.4" x2="683.7" y2="312.4" stroke="#8c8c8c" stroke-width="1.1"/>
</g>
<g stroke="#555" stroke-width="0.7">
<line x1="440.3" y1="302.50" x2="442.4" y2="302.50"/>
<line x1="440.3" y1="275.24" x2="442.4" y2="275.24"/>
<line x1="440.3" y1="247.98" x2="442.4" y2="247.98"/>
<line x1="440.3" y1="220.72" x2="442.4" y2="220.72"/>
<line x1="440.3" y1="193.46" x2="442.4" y2="193.46"/>
<line x1="452.30" y1="310.6" x2="452.30" y2="312"/>
<line x1="483.78" y1="310.6" x2="483.78" y2="312"/>
<line x1="515.26" y1="310.6" x2="515.26" y2="312"/>
<line x1="546.74" y1="310.6" x2="546.74" y2="312"/>
<line x1="578.22" y1="310.6" x2="578.22" y2="312"/>
<line x1="609.70" y1="310.6" x2="609.70" y2="312"/>
<line x1="641.18" y1="310.6" x2="641.18" y2="312"/>
<line x1="672.66" y1="310.6" x2="672.66" y2="312"/>
</g>
<g font-family="Liberation Sans" font-size="6.6" fill="#333" text-anchor="end">
<text x="439.8" y="304.80">0</text>
<text x="439.8" y="277.54">200</text>
<text x="439.8" y="250.28">400</text>
<text x="439.8" y="223.02">600</text>
<text x="439.8" y="195.76">800</text>
</g>
<g font-family="Liberation Sans" font-size="6.6" fill="#333" text-anchor="middle">
<text x="452.50" y="319.2">410</text>
<text x="483.98" y="319.2">408</text>
<text x="515.46" y="319.2">406</text>
<text x="546.94" y="319.2">404</text>
<text x="578.42" y="319.2">402</text>
<text x="609.90" y="319.2">400</text>
<text x="641.38" y="319.2">398</text>
<text x="672.86" y="319.2">396</text>
</g>
<text font-family="Liberation Sans" font-size="6.3" fill="#333" x="534" y="326.3" textLength="57" lengthAdjust="spacingAndGlyphs">Binding Energy (eV)</text>
<text font-family="Liberation Sans" font-size="6.2" fill="#333" transform="translate(426,260.3) rotate(-90)" textLength="42" lengthAdjust="spacingAndGlyphs">Intensity (a.u.)</text>
<text font-family="Liberation Serif" font-weight="bold" font-size="14.2" x="450.5" y="182.7">N 1s</text>
<path d="M562.48,302.34L562.95,302.31L563.42,302.27L563.90,302.23L564.37,302.18L564.84,302.13L565.31,302.07L565.79,302.00L566.26,301.91L566.73,301.82L567.20,301.72L567.67,301.60L568.15,301.46L568.62,301.31L569.09,301.14L569.56,300.94L570.04,300.73L570.51,300.49L570.98,300.22L571.45,299.93L571.92,299.60L572.40,299.24L572.87,298.84L573.34,298.41L573.81,297.94L574.28,297.42L574.76,296.86L575.23,296.26L575.70,295.60L576.17,294.90L576.65,294.15L577.12,293.34L577.59,292.48L578.06,291.57L578.53,290.60L579.01,289.59L579.48,288.52L579.95,287.40L580.42,286.23L580.90,285.01L581.37,283.75L581.84,282.45L582.31,281.11L582.78,279.74L583.26,278.35L583.73,276.93L584.20,275.49L584.67,274.05L585.15,272.60L585.62,271.16L586.09,269.73L586.56,268.32L587.03,266.94L587.51,265.60L587.98,264.30L588.45,263.06L588.92,261.87L589.40,260.76L589.87,259.72L590.34,258.76L590.81,257.90L591.28,257.13L591.76,256.46L592.23,255.90L592.70,255.45L593.17,255.12L593.65,254.90L594.12,254.80L594.59,254.82L595.06,254.96L595.53,255.22L596.01,255.59L596.48,256.08L596.95,256.67L597.42,257.37L597.89,258.17L598.37,259.07L598.84,260.05L599.31,261.12L599.78,262.26L600.26,263.46L600.73,264.73L601.20,266.04L601.67,267.40L602.14,268.79L602.62,270.21L603.09,271.64L603.56,273.08L604.03,274.53L604.51,275.97L604.98,277.40L605.45,278.81L605.92,280.20L606.39,281.56L606.87,282.89L607.34,284.18L607.81,285.42L608.28,286.62L608.76,287.78L609.23,288.88L609.70,289.93L610.17,290.93L610.64,291.88L611.12,292.77L611.59,293.61L612.06,294.40L612.53,295.14L613.01,295.83L613.48,296.46L613.95,297.05L614.42,297.60L614.89,298.10L615.37,298.56L615.84,298.98L616.31,299.36L616.78,299.71L617.26,300.03L617.73,300.32L618.20,300.57L618.67,300.80L619.14,301.01L619.62,301.20L620.09,301.36L620.56,301.51L621.03,301.64L621.50,301.75L621.98,301.85L622.45,301.94L622.92,302.02L623.39,302.09L623.87,302.15L624.34,302.20L624.81,302.24L625.28,302.28L625.75,302.32L626.23,302.34L626.70,302.37L627.17,302.39L627.64,302.41L628.12,302.42L628.59,302.44L629.06,302.45L629.53,302.46L630.00,302.46L630.48,302.47L630.95,302.47L631.42,302.48L631.89,302.48L632.37,302.49L632.84,302.49L633.31,302.49L633.78,302.49L634.25,302.49L634.73,302.50L635.20,302.50L635.67,302.50L636.14,302.50L636.62,302.50L637.09,302.50L637.56,302.50L638.03,302.50L638.50,302.50L638.98,302.50L639.45,302.50L639.92,302.50L640.39,302.50L640.87,302.50L641.34,302.50L641.81,302.50L642.28,302.50L642.75,302.50L643.23,302.50L643.70,302.50L644.17,302.50L644.64,302.50L645.11,302.50L645.59,302.50L646.06,302.50L646.53,302.50L647.00,302.50L647.48,302.50L647.95,302.50L648.42,302.50L648.89,302.50" fill="none" stroke="#000" stroke-width="0.7" stroke-dasharray="1.4 0.8"/>
<path d="M562.48,302.50L562.95,302.50L563.42,302.50L563.90,302.50L564.37,302.50L564.84,302.50L565.31,302.50L565.79,302.50L566.26,302.50L566.73,302.50L567.20,302.50L567.67,302.50L568.15,302.50L568.62,302.50L569.09,302.50L569.56,302.50L570.04,302.50L570.51,302.50L570.98,302.50L571.45,302.50L571.92,302.50L572.40,302.50L572.87,302.50L573.34,302.50L573.81,302.50L574.28,302.50L574.76,302.50L575.23,302.50L575.70,302.50L576.17,302.50L576.65,302.50L577.12,302.50L577.59,302.50L578.06,302.50L578.53,302.50L579.01,302.50L579.48,302.50L579.95,302.50L580.42,302.50L580.90,302.50L581.37,302.50L581.84,302.50L582.31,302.50L582.78,302.50L583.26,302.50L583.73,302.50L584.20,302.50L584.67,302.50L585.15,302.50L585.62,302.50L586.09,302.50L586.56,302.50L587.03,302.50L587.51,302.50L587.98,302.50L588.45,302.50L588.92,302.49L589.40,302.49L589.87,302.49L590.34,302.48L590.81,302.48L591.28,302.47L591.76,302.46L592.23,302.45L592.70,302.43L593.17,302.41L593.65,302.38L594.12,302.34L594.59,302.29L595.06,302.22L595.53,302.14L596.01,302.04L596.48,301.90L596.95,301.74L597.42,301.54L597.89,301.29L598.37,300.98L598.84,300.60L599.31,300.15L599.78,299.60L600.26,298.95L600.73,298.17L601.20,297.26L601.67,296.18L602.14,294.93L602.62,293.48L603.09,291.81L603.56,289.91L604.03,287.74L604.51,285.31L604.98,282.58L605.45,279.55L605.92,276.21L606.39,272.55L606.87,268.58L607.34,264.29L607.81,259.70L608.28,254.82L608.76,249.69L609.23,244.34L609.70,238.80L610.17,233.13L610.64,227.38L611.12,221.60L611.59,215.87L612.06,210.26L612.53,204.83L613.01,199.66L613.48,194.82L613.95,190.40L614.42,186.44L614.89,183.02L615.37,180.18L615.84,177.98L616.31,176.46L616.78,175.63L617.26,175.50L617.73,175.98L618.20,177.03L618.67,178.64L619.14,180.77L619.62,183.42L620.09,186.54L620.56,190.08L621.03,194.01L621.50,198.28L621.98,202.84L622.45,207.63L622.92,212.59L623.39,217.69L623.87,222.86L624.34,228.05L624.81,233.22L625.28,238.32L625.75,243.32L626.23,248.17L626.70,252.85L627.17,257.34L627.64,261.61L628.12,265.64L628.59,269.42L629.06,272.95L629.53,276.22L630.00,279.24L630.48,282.01L630.95,284.52L631.42,286.80L631.89,288.85L632.37,290.69L632.84,292.33L633.31,293.78L633.78,295.06L634.25,296.17L634.73,297.15L635.20,297.99L635.67,298.72L636.14,299.35L636.62,299.88L637.09,300.34L637.56,300.72L638.03,301.04L638.50,301.31L638.98,301.53L639.45,301.72L639.92,301.87L640.39,302.00L640.87,302.10L641.34,302.18L641.81,302.25L642.28,302.30L642.75,302.34L643.23,302.38L643.70,302.41L644.17,302.43L644.64,302.44L645.11,302.46L645.59,302.47L646.06,302.48L646.53,302.48L647.00,302.49L647.48,302.49L647.95,302.49L648.42,302.49L648.89,302.50" fill="none" stroke="#000" stroke-width="0.7" stroke-dasharray="1.4 0.8"/>
<path d="M452.30,303.63L452.69,301.46L453.09,301.24L453.48,304.93L453.87,302.24L454.27,301.53L454.66,303.93L455.05,301.75L455.45,303.13L455.84,303.67L456.23,302.93L456.63,303.06L457.02,304.11L457.42,299.99L457.81,303.05L458.20,303.38L458.60,301.56L458.99,302.62L459.38,301.02L459.78,302.84L460.17,302.13L460.56,302.43L460.96,302.34L461.35,302.77L461.74,302.65L462.14,300.63L462.53,303.31L462.92,303.15L463.32,302.92L463.71,301.88L464.10,302.08L464.50,301.47L464.89,304.06L465.29,302.24L465.68,302.73L466.07,302.86L466.47,302.35L466.86,304.77L467.25,302.22L467.65,302.37L468.04,304.16L468.43,302.64L468.83,300.77L469.22,302.97L469.61,301.86L470.01,302.79L470.40,303.45L470.79,303.58L471.19,302.98L471.58,301.06L471.97,301.61L472.37,303.33L472.76,301.40L473.16,302.68L473.55,303.32L473.94,302.04L474.34,303.57L474.73,304.31L475.12,301.07L475.52,304.60L475.91,301.92L476.30,304.26L476.70,302.57L477.09,302.76L477.48,303.03L477.88,305.01L478.27,302.66L478.66,302.57L479.06,303.55L479.45,302.61L479.84,301.41L480.24,303.34L480.63,302.24L481.03,303.83L481.42,302.10L481.81,301.81L482.21,299.72L482.60,301.51L482.99,302.04L483.39,300.94L483.78,303.65L484.17,301.32L484.57,303.15L484.96,303.23L485.35,301.29L485.75,302.26L486.14,301.03L486.53,304.16L486.93,302.22L487.32,303.12L487.71,302.83L488.11,304.68L488.50,301.47L488.90,302.29L489.29,303.64L489.68,304.04L490.08,303.51L490.47,300.95L490.86,302.64L491.26,302.90L491.65,301.97L492.04,302.51L492.44,302.26L492.83,301.68L493.22,302.15L493.62,301.53L494.01,303.86L494.40,302.45L494.80,302.92L495.19,302.40L495.58,302.56L495.98,303.23L496.37,302.91L496.77,301.45L497.16,303.13L497.55,303.91L497.95,301.84L498.34,301.42L498.73,302.81L499.13,302.37L499.52,303.45L499.91,302.74L500.31,301.27L500.70,301.61L501.09,302.34L501.49,302.82L501.88,304.34L502.27,302.15L502.67,301.99L503.06,301.32L503.45,300.24L503.85,302.08L504.24,301.43L504.64,303.76L505.03,301.15L505.42,301.53L505.82,300.97L506.21,301.74L506.60,301.99L507.00,300.84L507.39,303.24L507.78,301.78L508.18,301.29L508.57,303.38L508.96,303.79L509.36,302.01L509.75,302.36L510.14,301.81L510.54,301.77L510.93,303.35L511.32,302.11L511.72,301.23L512.11,302.89L512.51,302.81L512.90,303.75L513.29,301.58L513.69,300.31L514.08,304.02L514.47,301.64L514.87,301.48L515.26,303.11L515.65,302.90L516.05,303.65L516.44,303.36L516.83,302.30L517.23,301.76L517.62,302.35L518.01,301.53L518.41,302.25L518.80,303.79L519.19,300.86L519.59,301.16L519.98,303.27L520.38,300.50L520.77,301.96L521.16,302.33L521.56,300.34L521.95,305.27L522.34,304.27L522.74,301.68L523.13,302.75L523.52,303.53L523.92,300.79L524.31,301.93L524.70,303.90L525.10,303.21L525.49,301.53L525.88,300.48L526.28,304.71L526.67,302.19L527.06,302.90L527.46,304.42L527.85,302.66L528.25,304.26L528.64,303.07L529.03,300.66L529.43,301.89L529.82,301.60L530.21,301.80L530.61,302.07L531.00,301.38L531.39,303.77L531.79,302.87L532.18,301.51L532.57,303.28L532.97,302.95L533.36,301.12L533.75,300.75L534.15,303.14L534.54,303.37L534.93,301.81L535.33,302.16L535.72,303.21L536.12,301.79L536.51,301.84L536.90,302.37L537.30,299.17L537.69,300.94L538.08,301.55L538.48,301.31L538.87,299.15L539.26,301.23L539.66,303.26L540.05,302.10L540.44,302.37L540.84,303.09L541.23,302.16L541.62,302.17L542.02,302.52L542.41,303.00L542.80,301.53L543.20,304.24L543.59,301.53L543.99,302.44L544.38,302.15L544.77,305.11L545.17,300.57L545.56,304.39L545.95,303.42L546.35,301.73L546.74,303.13L547.13,302.91L547.53,304.95L547.92,302.94L548.31,302.21L548.71,301.69L549.10,302.77L549.49,302.20L549.89,301.96L550.28,303.20L550.67,303.29L551.07,300.25L551.46,303.40L551.86,301.07L552.25,302.37L552.64,300.80L553.04,303.16L553.43,301.86L553.82,302.07L554.22,302.70L554.61,302.09L555.00,303.30L555.40,302.53L555.79,302.88L556.18,301.58L556.58,302.53L556.97,303.99L557.36,302.84L557.76,302.53L558.15,303.43L558.54,300.92L558.94,301.95L559.33,301.45L559.73,303.25L560.12,302.83L560.51,301.24L560.91,303.96L561.30,301.93L561.69,302.22L562.09,302.87L562.48,302.18L562.87,303.47L563.27,301.98L563.66,303.57L564.05,303.60L564.45,300.55L564.84,302.87L565.23,304.40L565.63,300.87L566.02,302.77L566.41,305.79L566.81,301.82L567.20,300.62L567.60,301.17L567.99,299.52L568.38,301.48L568.78,300.53L569.17,302.19L569.56,300.71L569.96,298.99L570.35,299.95L570.74,300.12L571.14,302.30L571.53,300.25L571.92,301.00L572.32,298.38L572.71,299.76L573.10,298.17L573.50,299.33L573.89,295.68L574.28,298.69L574.68,296.75L575.07,293.45L575.47,295.64L575.86,296.30L576.25,294.03L576.65,292.97L577.04,292.44L577.43,294.94L577.83,291.73L578.22,293.60L578.61,288.24L579.01,289.45L579.40,289.16L579.79,286.96L580.19,286.21L580.58,287.11L580.97,282.92L581.37,283.97L581.76,284.60L582.15,279.93L582.55,278.64L582.94,277.81L583.34,277.43L583.73,277.88L584.12,274.62L584.52,272.37L584.91,272.35L585.30,270.25L585.70,271.74L586.09,268.52L586.48,267.44L586.88,269.03L587.27,268.05L587.66,265.92L588.06,263.94L588.45,262.48L588.84,262.26L589.24,261.13L589.63,260.29L590.02,259.22L590.42,257.87L590.81,257.25L591.21,257.22L591.60,256.28L591.99,256.58L592.39,254.72L592.78,255.83L593.17,253.10L593.57,254.78L593.96,254.30L594.35,255.41L594.75,254.95L595.14,254.46L595.53,254.77L595.93,255.72L596.32,256.61L596.71,255.58L597.11,255.84L597.50,255.81L597.89,255.48L598.29,257.74L598.68,260.16L599.08,258.57L599.47,261.01L599.86,260.86L600.26,258.68L600.65,259.62L601.04,261.35L601.44,261.62L601.83,261.18L602.22,263.16L602.62,260.58L603.01,261.34L603.40,258.51L603.80,261.31L604.19,258.27L604.58,259.30L604.98,256.26L605.37,257.21L605.76,253.70L606.16,253.25L606.55,251.65L606.95,248.60L607.34,245.36L607.73,242.67L608.13,238.34L608.52,235.99L608.91,236.52L609.31,230.38L609.70,228.44L610.09,222.73L610.49,217.60L610.88,215.78L611.27,211.52L611.67,205.95L612.06,202.42L612.45,196.37L612.85,194.02L613.24,190.17L613.63,185.40L614.03,184.86L614.42,181.47L614.82,180.13L615.21,176.61L615.60,174.03L616.00,172.38L616.39,173.17L616.78,173.59L617.18,173.76L617.57,175.00L617.96,174.18L618.36,174.04L618.75,179.94L619.14,181.70L619.54,179.94L619.93,186.03L620.32,186.75L620.72,191.77L621.11,192.90L621.50,196.57L621.90,201.14L622.29,204.41L622.69,209.45L623.08,213.11L623.47,215.99L623.87,221.18L624.26,227.55L624.65,232.07L625.05,235.74L625.44,239.98L625.83,243.80L626.23,248.63L626.62,251.13L627.01,255.63L627.41,258.91L627.80,262.80L628.19,265.43L628.59,270.65L628.98,270.44L629.37,274.64L629.77,277.13L630.16,279.38L630.56,281.09L630.95,283.57L631.34,286.06L631.74,288.30L632.13,291.58L632.52,290.92L632.92,292.85L633.31,294.05L633.70,292.01L634.10,297.86L634.49,296.53L634.88,295.97L635.28,296.94L635.67,297.22L636.06,300.61L636.46,300.73L636.85,299.32L637.24,300.72L637.64,298.73L638.03,300.69L638.43,300.95L638.82,300.87L639.21,301.85L639.61,301.55L640.00,302.57L640.39,301.95L640.79,302.54L641.18,301.77L641.57,303.74L641.97,303.88L642.36,301.69L642.75,301.99L643.15,303.38L643.54,302.56L643.93,303.52L644.33,300.00L644.72,304.14L645.11,300.40L645.51,303.31L645.90,301.89L646.30,302.68L646.69,302.82L647.08,301.32L647.48,301.46L647.87,302.72L648.26,303.43L648.66,300.02L649.05,300.79L649.44,302.24L649.84,302.74L650.23,302.06L650.62,302.30L651.02,301.03L651.41,303.50L651.80,302.37L652.20,303.30L652.59,300.90L652.98,300.33L653.38,302.50L653.77,301.78L654.17,300.79L654.56,302.74L654.95,303.47L655.35,301.21L655.74,301.82L656.13,302.63L656.53,300.72L656.92,302.13L657.31,304.43L657.71,302.00L658.10,302.46L658.49,300.24L658.89,302.41L659.28,302.63L659.67,301.90L660.07,302.12L660.46,304.01L660.85,302.26L661.25,302.77L661.64,300.79L662.04,299.65L662.43,303.67L662.82,303.50L663.22,303.36L663.61,303.15L664.00,303.18L664.40,302.33L664.79,301.15L665.18,303.88L665.58,304.16L665.97,304.50L666.36,301.13L666.76,300.87L667.15,304.15L667.54,304.26L667.94,302.24L668.33,301.14L668.72,301.23L669.12,302.17L669.51,301.61L669.91,302.02L670.30,303.03L670.69,300.21L671.09,302.39L671.48,303.67L671.87,302.93L672.27,304.16L672.66,302.37" fill="none" stroke="#000" stroke-width="1.25" stroke-linejoin="round"/>
</svg>
</body></html>
